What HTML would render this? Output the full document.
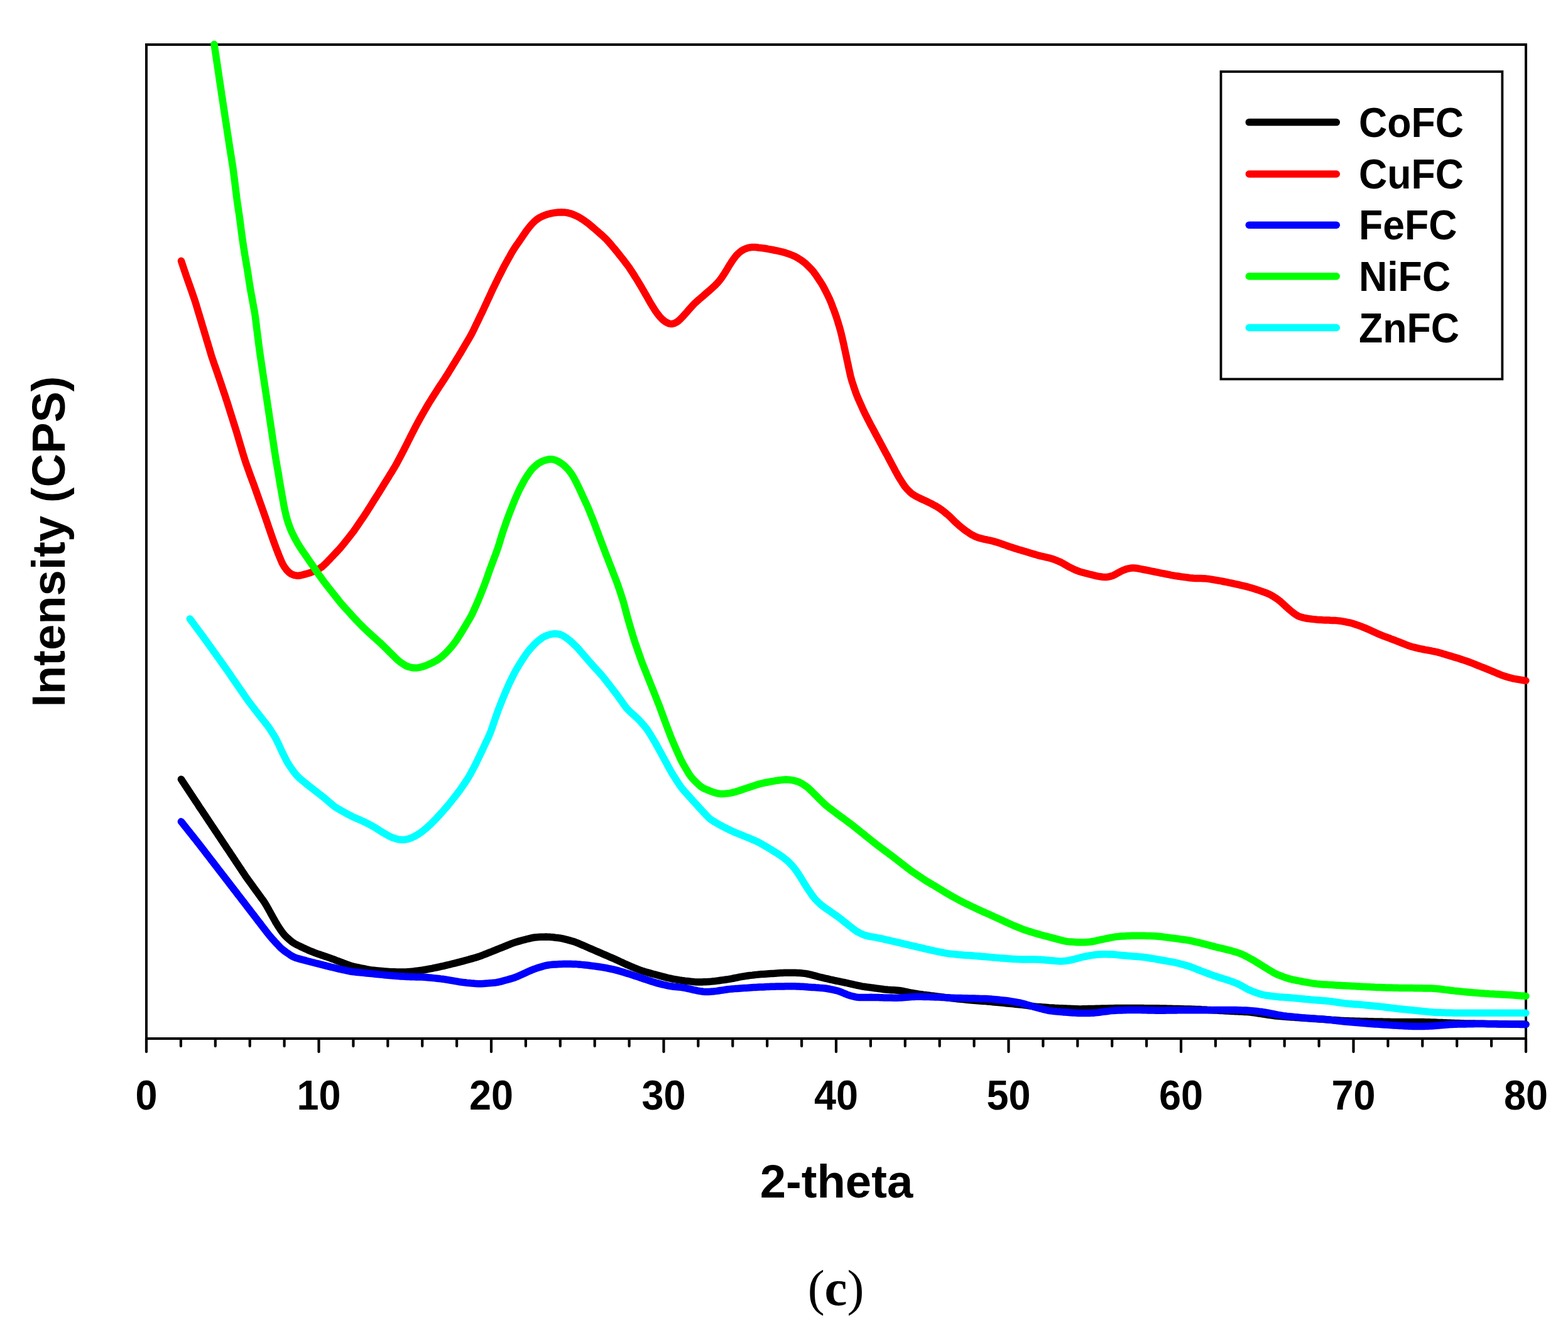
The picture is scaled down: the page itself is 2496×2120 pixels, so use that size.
<!DOCTYPE html>
<html><head><meta charset="utf-8"><title>XRD</title>
<style>
html,body{margin:0;padding:0;background:#fff;}
body{width:2496px;height:2120px;overflow:hidden;}
svg{display:block;}
.tl{font-family:"Liberation Sans",Arial,sans-serif;font-weight:bold;font-size:67px;text-anchor:middle;fill:#000;}
.lg{font-family:"Liberation Sans",Arial,sans-serif;font-weight:bold;font-size:67px;fill:#000;}
.al{font-family:"Liberation Sans",Arial,sans-serif;font-weight:bold;font-size:75px;text-anchor:middle;fill:#000;}
.cap{font-family:"Liberation Serif","Times New Roman",serif;font-weight:normal;font-size:81px;text-anchor:middle;fill:#000;}
</style></head>
<body>
<svg xmlns="http://www.w3.org/2000/svg" width="2496" height="2120" viewBox="0 0 2496 2120">
<rect width="2496" height="2120" fill="#fff"/>
<rect x="233" y="71" width="2196" height="1582" fill="none" stroke="#000" stroke-width="4"/>
<line x1="233.0" y1="1653" x2="233.0" y2="1674" stroke="#000" stroke-width="4.2" stroke-linecap="round"/>
<line x1="287.9" y1="1653" x2="287.9" y2="1665" stroke="#000" stroke-width="4.2" stroke-linecap="round"/>
<line x1="342.8" y1="1653" x2="342.8" y2="1665" stroke="#000" stroke-width="4.2" stroke-linecap="round"/>
<line x1="397.7" y1="1653" x2="397.7" y2="1665" stroke="#000" stroke-width="4.2" stroke-linecap="round"/>
<line x1="452.6" y1="1653" x2="452.6" y2="1665" stroke="#000" stroke-width="4.2" stroke-linecap="round"/>
<line x1="507.5" y1="1653" x2="507.5" y2="1674" stroke="#000" stroke-width="4.2" stroke-linecap="round"/>
<line x1="562.4" y1="1653" x2="562.4" y2="1665" stroke="#000" stroke-width="4.2" stroke-linecap="round"/>
<line x1="617.3" y1="1653" x2="617.3" y2="1665" stroke="#000" stroke-width="4.2" stroke-linecap="round"/>
<line x1="672.2" y1="1653" x2="672.2" y2="1665" stroke="#000" stroke-width="4.2" stroke-linecap="round"/>
<line x1="727.1" y1="1653" x2="727.1" y2="1665" stroke="#000" stroke-width="4.2" stroke-linecap="round"/>
<line x1="782.0" y1="1653" x2="782.0" y2="1674" stroke="#000" stroke-width="4.2" stroke-linecap="round"/>
<line x1="836.9" y1="1653" x2="836.9" y2="1665" stroke="#000" stroke-width="4.2" stroke-linecap="round"/>
<line x1="891.8" y1="1653" x2="891.8" y2="1665" stroke="#000" stroke-width="4.2" stroke-linecap="round"/>
<line x1="946.7" y1="1653" x2="946.7" y2="1665" stroke="#000" stroke-width="4.2" stroke-linecap="round"/>
<line x1="1001.6" y1="1653" x2="1001.6" y2="1665" stroke="#000" stroke-width="4.2" stroke-linecap="round"/>
<line x1="1056.5" y1="1653" x2="1056.5" y2="1674" stroke="#000" stroke-width="4.2" stroke-linecap="round"/>
<line x1="1111.4" y1="1653" x2="1111.4" y2="1665" stroke="#000" stroke-width="4.2" stroke-linecap="round"/>
<line x1="1166.3" y1="1653" x2="1166.3" y2="1665" stroke="#000" stroke-width="4.2" stroke-linecap="round"/>
<line x1="1221.2" y1="1653" x2="1221.2" y2="1665" stroke="#000" stroke-width="4.2" stroke-linecap="round"/>
<line x1="1276.1" y1="1653" x2="1276.1" y2="1665" stroke="#000" stroke-width="4.2" stroke-linecap="round"/>
<line x1="1331.0" y1="1653" x2="1331.0" y2="1674" stroke="#000" stroke-width="4.2" stroke-linecap="round"/>
<line x1="1385.9" y1="1653" x2="1385.9" y2="1665" stroke="#000" stroke-width="4.2" stroke-linecap="round"/>
<line x1="1440.8" y1="1653" x2="1440.8" y2="1665" stroke="#000" stroke-width="4.2" stroke-linecap="round"/>
<line x1="1495.7" y1="1653" x2="1495.7" y2="1665" stroke="#000" stroke-width="4.2" stroke-linecap="round"/>
<line x1="1550.6" y1="1653" x2="1550.6" y2="1665" stroke="#000" stroke-width="4.2" stroke-linecap="round"/>
<line x1="1605.5" y1="1653" x2="1605.5" y2="1674" stroke="#000" stroke-width="4.2" stroke-linecap="round"/>
<line x1="1660.4" y1="1653" x2="1660.4" y2="1665" stroke="#000" stroke-width="4.2" stroke-linecap="round"/>
<line x1="1715.3" y1="1653" x2="1715.3" y2="1665" stroke="#000" stroke-width="4.2" stroke-linecap="round"/>
<line x1="1770.2" y1="1653" x2="1770.2" y2="1665" stroke="#000" stroke-width="4.2" stroke-linecap="round"/>
<line x1="1825.1" y1="1653" x2="1825.1" y2="1665" stroke="#000" stroke-width="4.2" stroke-linecap="round"/>
<line x1="1880.0" y1="1653" x2="1880.0" y2="1674" stroke="#000" stroke-width="4.2" stroke-linecap="round"/>
<line x1="1934.9" y1="1653" x2="1934.9" y2="1665" stroke="#000" stroke-width="4.2" stroke-linecap="round"/>
<line x1="1989.8" y1="1653" x2="1989.8" y2="1665" stroke="#000" stroke-width="4.2" stroke-linecap="round"/>
<line x1="2044.7" y1="1653" x2="2044.7" y2="1665" stroke="#000" stroke-width="4.2" stroke-linecap="round"/>
<line x1="2099.6" y1="1653" x2="2099.6" y2="1665" stroke="#000" stroke-width="4.2" stroke-linecap="round"/>
<line x1="2154.5" y1="1653" x2="2154.5" y2="1674" stroke="#000" stroke-width="4.2" stroke-linecap="round"/>
<line x1="2209.4" y1="1653" x2="2209.4" y2="1665" stroke="#000" stroke-width="4.2" stroke-linecap="round"/>
<line x1="2264.3" y1="1653" x2="2264.3" y2="1665" stroke="#000" stroke-width="4.2" stroke-linecap="round"/>
<line x1="2319.2" y1="1653" x2="2319.2" y2="1665" stroke="#000" stroke-width="4.2" stroke-linecap="round"/>
<line x1="2374.1" y1="1653" x2="2374.1" y2="1665" stroke="#000" stroke-width="4.2" stroke-linecap="round"/>
<line x1="2429.0" y1="1653" x2="2429.0" y2="1674" stroke="#000" stroke-width="4.2" stroke-linecap="round"/>
<text x="233.0" y="1766" class="tl" transform="translate(233.0 0) scale(0.94 1) translate(-233.0 0)">0</text>
<text x="507.5" y="1766" class="tl" transform="translate(507.5 0) scale(0.94 1) translate(-507.5 0)">10</text>
<text x="782.0" y="1766" class="tl" transform="translate(782.0 0) scale(0.94 1) translate(-782.0 0)">20</text>
<text x="1056.5" y="1766" class="tl" transform="translate(1056.5 0) scale(0.94 1) translate(-1056.5 0)">30</text>
<text x="1331.0" y="1766" class="tl" transform="translate(1331.0 0) scale(0.94 1) translate(-1331.0 0)">40</text>
<text x="1605.5" y="1766" class="tl" transform="translate(1605.5 0) scale(0.94 1) translate(-1605.5 0)">50</text>
<text x="1880.0" y="1766" class="tl" transform="translate(1880.0 0) scale(0.94 1) translate(-1880.0 0)">60</text>
<text x="2154.5" y="1766" class="tl" transform="translate(2154.5 0) scale(0.94 1) translate(-2154.5 0)">70</text>
<text x="2429.0" y="1766" class="tl" transform="translate(2429.0 0) scale(0.94 1) translate(-2429.0 0)">80</text>
<path d="M288.4 1240.3 L290.1 1242.8 L291.7 1245.3 L293.4 1247.8 L295.0 1250.3 L296.7 1252.8 L298.3 1255.3 L300.0 1257.8 L301.6 1260.3 L303.3 1262.8 L304.9 1265.3 L306.6 1267.8 L308.2 1270.3 L309.9 1272.8 L311.5 1275.3 L313.2 1277.8 L314.9 1280.3 L316.5 1282.9 L318.2 1285.4 L319.8 1287.8 L321.5 1290.3 L323.2 1292.8 L324.8 1295.3 L326.5 1297.8 L328.2 1300.3 L329.8 1302.8 L331.5 1305.3 L333.1 1307.8 L334.8 1310.3 L336.5 1312.8 L338.1 1315.3 L339.8 1317.8 L341.5 1320.3 L343.1 1322.8 L344.8 1325.3 L346.5 1327.8 L348.1 1330.3 L349.8 1332.8 L351.5 1335.3 L353.1 1337.8 L354.8 1340.3 L356.4 1342.8 L358.1 1345.3 L359.8 1347.8 L361.4 1350.3 L363.1 1352.7 L364.8 1355.2 L366.4 1357.7 L368.1 1360.2 L369.8 1362.7 L371.4 1365.2 L373.1 1367.7 L374.7 1370.2 L376.4 1372.7 L378.1 1375.2 L379.7 1377.7 L381.4 1380.2 L383.1 1382.7 L384.7 1385.2 L386.4 1387.7 L388.1 1390.2 L389.7 1392.7 L391.4 1395.2 L393.1 1397.6 L394.9 1400.1 L396.6 1402.5 L398.4 1404.9 L400.2 1407.4 L401.9 1409.8 L403.7 1412.2 L405.4 1414.6 L407.2 1417.1 L409.0 1419.5 L410.7 1421.9 L412.5 1424.4 L414.2 1426.8 L416.0 1429.2 L417.8 1431.6 L419.5 1434.1 L421.2 1436.6 L422.8 1439.1 L424.3 1441.7 L425.8 1444.3 L427.3 1446.9 L428.7 1449.5 L430.2 1452.1 L431.6 1454.8 L433.1 1457.4 L434.5 1460.0 L436.0 1462.6 L437.5 1465.3 L438.9 1467.9 L440.5 1470.4 L442.0 1473.0 L443.7 1475.5 L445.3 1478.0 L447.0 1480.5 L448.7 1482.9 L450.5 1485.3 L452.4 1487.6 L454.4 1489.8 L456.5 1491.9 L458.8 1493.9 L461.0 1495.9 L463.3 1497.8 L465.7 1499.6 L468.1 1501.3 L470.7 1502.7 L473.4 1504.1 L476.1 1505.4 L478.8 1506.7 L481.5 1508.0 L484.2 1509.2 L486.9 1510.5 L489.7 1511.7 L492.4 1513.0 L495.2 1514.1 L498.0 1515.2 L500.8 1516.3 L503.6 1517.3 L506.4 1518.3 L509.3 1519.3 L512.1 1520.3 L514.9 1521.2 L517.8 1522.2 L520.6 1523.2 L523.4 1524.2 L526.2 1525.2 L529.1 1526.2 L531.9 1527.2 L534.7 1528.3 L537.5 1529.3 L540.3 1530.4 L543.1 1531.5 L545.9 1532.5 L548.7 1533.6 L551.5 1534.7 L554.3 1535.7 L557.2 1536.7 L560.0 1537.6 L562.9 1538.3 L565.8 1539.0 L568.8 1539.6 L571.7 1540.2 L574.6 1540.8 L577.6 1541.4 L580.5 1542.0 L583.5 1542.6 L586.4 1543.1 L589.4 1543.6 L592.4 1544.0 L595.3 1544.3 L598.3 1544.6 L601.3 1544.9 L604.3 1545.2 L607.3 1545.5 L610.3 1545.8 L613.2 1546.1 L616.2 1546.3 L619.2 1546.5 L622.2 1546.7 L625.2 1546.8 L628.2 1546.8 L631.2 1546.9 L634.2 1547.0 L637.2 1547.1 L640.2 1547.1 L643.2 1547.1 L646.2 1547.0 L649.2 1546.8 L652.2 1546.6 L655.1 1546.2 L658.1 1545.9 L661.1 1545.5 L664.1 1545.1 L667.0 1544.8 L670.0 1544.4 L673.0 1544.0 L676.0 1543.5 L678.9 1543.0 L681.9 1542.4 L684.8 1541.8 L687.7 1541.3 L690.7 1540.7 L693.6 1540.1 L696.6 1539.5 L699.5 1538.9 L702.4 1538.2 L705.4 1537.6 L708.3 1536.9 L711.2 1536.2 L714.1 1535.5 L717.0 1534.8 L719.9 1534.0 L722.8 1533.3 L725.8 1532.6 L728.7 1531.8 L731.6 1531.1 L734.5 1530.3 L737.4 1529.6 L740.3 1528.8 L743.2 1528.0 L746.0 1527.2 L748.9 1526.4 L751.8 1525.6 L754.7 1524.8 L757.6 1523.9 L760.5 1523.0 L763.3 1522.1 L766.1 1521.1 L768.9 1520.0 L771.7 1518.9 L774.5 1517.8 L777.3 1516.7 L780.1 1515.6 L782.9 1514.5 L785.6 1513.4 L788.4 1512.3 L791.2 1511.1 L794.0 1510.0 L796.8 1508.9 L799.6 1507.8 L802.4 1506.7 L805.1 1505.6 L807.9 1504.4 L810.7 1503.3 L813.5 1502.2 L816.3 1501.2 L819.1 1500.2 L822.0 1499.2 L824.8 1498.4 L827.7 1497.6 L830.6 1496.8 L833.5 1496.0 L836.4 1495.3 L839.3 1494.5 L842.2 1493.8 L845.1 1493.1 L848.1 1492.5 L851.0 1492.0 L854.0 1491.7 L857.0 1491.5 L860.0 1491.3 L863.0 1491.2 L866.0 1491.2 L869.0 1491.1 L871.9 1491.2 L874.9 1491.3 L877.9 1491.6 L880.9 1491.8 L883.9 1492.2 L886.9 1492.5 L889.8 1492.9 L892.8 1493.3 L895.7 1493.9 L898.6 1494.6 L901.5 1495.3 L904.4 1496.1 L907.3 1496.9 L910.2 1497.7 L913.1 1498.6 L915.9 1499.5 L918.7 1500.6 L921.5 1501.7 L924.2 1502.9 L927.0 1504.1 L929.8 1505.3 L932.5 1506.5 L935.3 1507.7 L938.0 1508.9 L940.8 1510.1 L943.5 1511.3 L946.3 1512.5 L949.0 1513.7 L951.8 1514.9 L954.5 1516.1 L957.3 1517.2 L960.0 1518.4 L962.8 1519.6 L965.5 1520.8 L968.3 1522.0 L971.0 1523.2 L973.8 1524.4 L976.5 1525.6 L979.3 1526.8 L982.0 1528.1 L984.7 1529.3 L987.5 1530.6 L990.2 1531.8 L992.9 1533.1 L995.6 1534.4 L998.4 1535.6 L1001.1 1536.8 L1003.9 1538.0 L1006.6 1539.1 L1009.4 1540.3 L1012.2 1541.4 L1015.0 1542.5 L1017.8 1543.6 L1020.6 1544.6 L1023.4 1545.6 L1026.3 1546.5 L1029.1 1547.3 L1032.0 1548.1 L1034.9 1548.9 L1037.8 1549.7 L1040.7 1550.5 L1043.6 1551.2 L1046.5 1552.0 L1049.4 1552.8 L1052.3 1553.6 L1055.2 1554.3 L1058.1 1555.1 L1061.0 1555.9 L1063.9 1556.6 L1066.9 1557.2 L1069.8 1557.8 L1072.7 1558.4 L1075.7 1558.9 L1078.7 1559.4 L1081.6 1559.9 L1084.6 1560.3 L1087.5 1560.8 L1090.5 1561.2 L1093.5 1561.5 L1096.5 1561.8 L1099.5 1562.1 L1102.4 1562.4 L1105.4 1562.7 L1108.4 1562.9 L1111.4 1563.0 L1114.4 1563.0 L1117.4 1562.9 L1120.4 1562.8 L1123.4 1562.7 L1126.4 1562.6 L1129.4 1562.4 L1132.4 1562.1 L1135.4 1561.8 L1138.3 1561.5 L1141.3 1561.1 L1144.3 1560.7 L1147.2 1560.3 L1150.2 1559.9 L1153.2 1559.5 L1156.2 1559.0 L1159.1 1558.6 L1162.1 1558.1 L1165.0 1557.6 L1168.0 1557.0 L1170.9 1556.4 L1173.9 1555.8 L1176.8 1555.2 L1179.8 1554.7 L1182.7 1554.1 L1185.7 1553.7 L1188.6 1553.2 L1191.6 1552.8 L1194.6 1552.4 L1197.6 1552.1 L1200.5 1551.7 L1203.5 1551.4 L1206.5 1551.1 L1209.5 1550.8 L1212.5 1550.6 L1215.5 1550.4 L1218.5 1550.2 L1221.5 1550.0 L1224.4 1549.8 L1227.4 1549.6 L1230.4 1549.4 L1233.4 1549.2 L1236.4 1549.0 L1239.4 1548.8 L1242.4 1548.6 L1245.4 1548.4 L1248.4 1548.3 L1251.4 1548.3 L1254.4 1548.2 L1257.4 1548.2 L1260.4 1548.2 L1263.4 1548.2 L1266.4 1548.3 L1269.4 1548.4 L1272.4 1548.5 L1275.4 1548.8 L1278.3 1549.1 L1281.3 1549.4 L1284.3 1549.9 L1287.2 1550.5 L1290.1 1551.2 L1293.0 1551.9 L1295.9 1552.7 L1298.8 1553.4 L1301.7 1554.2 L1304.6 1555.0 L1307.5 1555.7 L1310.5 1556.4 L1313.4 1557.1 L1316.3 1557.7 L1319.2 1558.4 L1322.1 1559.1 L1325.1 1559.7 L1328.0 1560.4 L1330.9 1561.0 L1333.9 1561.6 L1336.8 1562.2 L1339.8 1562.8 L1342.7 1563.4 L1345.6 1564.0 L1348.6 1564.7 L1351.5 1565.3 L1354.4 1566.0 L1357.3 1566.6 L1360.3 1567.3 L1363.2 1568.0 L1366.1 1568.6 L1369.1 1569.2 L1372.0 1569.8 L1375.0 1570.3 L1377.9 1570.7 L1380.9 1571.1 L1383.9 1571.5 L1386.8 1571.9 L1389.8 1572.3 L1392.8 1572.7 L1395.8 1573.1 L1398.7 1573.5 L1401.7 1573.9 L1404.7 1574.3 L1407.7 1574.7 L1410.6 1575.0 L1413.6 1575.3 L1416.6 1575.5 L1419.6 1575.7 L1422.6 1575.8 L1425.6 1576.0 L1428.6 1576.2 L1431.5 1576.5 L1434.5 1577.0 L1437.4 1577.5 L1440.4 1578.1 L1443.3 1578.7 L1446.3 1579.3 L1449.2 1579.9 L1452.2 1580.4 L1455.1 1581.0 L1458.1 1581.5 L1461.0 1582.0 L1464.0 1582.4 L1467.0 1582.8 L1469.9 1583.2 L1472.9 1583.5 L1475.9 1583.9 L1478.9 1584.3 L1481.8 1584.7 L1484.8 1585.0 L1487.8 1585.4 L1490.8 1585.8 L1493.7 1586.1 L1496.7 1586.5 L1499.7 1586.9 L1502.7 1587.3 L1505.7 1587.6 L1508.6 1588.0 L1511.6 1588.4 L1514.6 1588.7 L1517.6 1589.0 L1520.6 1589.4 L1523.5 1589.7 L1526.5 1590.0 L1529.5 1590.3 L1532.5 1590.6 L1535.5 1590.9 L1538.5 1591.2 L1541.4 1591.5 L1544.4 1591.7 L1547.4 1592.0 L1550.4 1592.3 L1553.4 1592.5 L1556.4 1592.7 L1559.4 1593.0 L1562.4 1593.2 L1565.4 1593.4 L1568.4 1593.6 L1571.3 1593.9 L1574.3 1594.1 L1577.3 1594.4 L1580.3 1594.7 L1583.3 1595.0 L1586.3 1595.3 L1589.3 1595.5 L1592.3 1595.8 L1595.2 1596.1 L1598.2 1596.4 L1601.2 1596.7 L1604.2 1597.0 L1607.2 1597.3 L1610.2 1597.6 L1613.2 1597.9 L1616.1 1598.2 L1619.1 1598.5 L1622.1 1598.8 L1625.1 1599.1 L1628.1 1599.4 L1631.1 1599.8 L1634.0 1600.1 L1637.0 1600.5 L1640.0 1601.0 L1642.9 1601.4 L1645.9 1601.8 L1648.9 1602.1 L1651.9 1602.4 L1654.9 1602.6 L1657.9 1602.8 L1660.9 1603.1 L1663.8 1603.3 L1666.8 1603.5 L1669.8 1603.8 L1672.8 1604.0 L1675.8 1604.1 L1678.8 1604.3 L1681.8 1604.4 L1684.8 1604.6 L1687.8 1604.7 L1690.8 1604.8 L1693.8 1605.0 L1696.8 1605.1 L1699.8 1605.2 L1702.8 1605.3 L1705.8 1605.5 L1708.8 1605.6 L1711.8 1605.7 L1714.8 1605.8 L1717.8 1605.9 L1720.8 1605.9 L1723.8 1605.8 L1726.8 1605.8 L1729.8 1605.7 L1732.8 1605.6 L1735.8 1605.6 L1738.8 1605.5 L1741.8 1605.4 L1744.8 1605.3 L1747.8 1605.3 L1750.8 1605.2 L1753.8 1605.1 L1756.8 1605.0 L1759.8 1605.0 L1762.8 1604.9 L1765.8 1604.8 L1768.8 1604.7 L1771.8 1604.7 L1774.8 1604.6 L1777.8 1604.5 L1780.8 1604.5 L1783.8 1604.5 L1786.8 1604.4 L1789.8 1604.5 L1792.8 1604.5 L1795.8 1604.5 L1798.8 1604.5 L1801.8 1604.5 L1804.8 1604.5 L1807.8 1604.6 L1810.8 1604.6 L1813.8 1604.6 L1816.8 1604.6 L1819.8 1604.6 L1822.8 1604.7 L1825.8 1604.7 L1828.8 1604.7 L1831.8 1604.7 L1834.8 1604.7 L1837.8 1604.8 L1840.8 1604.8 L1843.8 1604.8 L1846.8 1604.9 L1849.7 1604.9 L1852.7 1605.0 L1855.7 1605.1 L1858.7 1605.2 L1861.7 1605.3 L1864.7 1605.3 L1867.7 1605.4 L1870.7 1605.5 L1873.7 1605.6 L1876.7 1605.6 L1879.7 1605.7 L1882.7 1605.8 L1885.7 1605.9 L1888.7 1605.9 L1891.7 1606.0 L1894.7 1606.1 L1897.7 1606.2 L1900.7 1606.3 L1903.7 1606.4 L1906.7 1606.5 L1909.7 1606.6 L1912.7 1606.8 L1915.7 1606.9 L1918.7 1607.1 L1921.7 1607.3 L1924.7 1607.4 L1927.7 1607.6 L1930.7 1607.8 L1933.7 1607.9 L1936.7 1608.1 L1939.7 1608.3 L1942.7 1608.4 L1945.7 1608.6 L1948.7 1608.7 L1951.7 1608.9 L1954.7 1609.1 L1957.7 1609.2 L1960.7 1609.4 L1963.6 1609.5 L1966.6 1609.7 L1969.6 1609.8 L1972.6 1610.0 L1975.6 1610.1 L1978.6 1610.3 L1981.6 1610.4 L1984.6 1610.6 L1987.6 1610.8 L1990.6 1611.1 L1993.6 1611.5 L1996.5 1611.9 L1999.5 1612.3 L2002.5 1612.8 L2005.4 1613.2 L2008.4 1613.7 L2011.4 1614.1 L2014.3 1614.6 L2017.3 1615.0 L2020.3 1615.5 L2023.2 1615.9 L2026.2 1616.3 L2029.2 1616.7 L2032.2 1617.0 L2035.1 1617.3 L2038.1 1617.6 L2041.1 1617.8 L2044.1 1618.0 L2047.1 1618.2 L2050.1 1618.5 L2053.1 1618.7 L2056.1 1618.9 L2059.1 1619.1 L2062.1 1619.4 L2065.1 1619.6 L2068.0 1619.8 L2071.0 1620.0 L2074.0 1620.2 L2077.0 1620.4 L2080.0 1620.6 L2083.0 1620.8 L2086.0 1621.0 L2089.0 1621.2 L2092.0 1621.4 L2095.0 1621.6 L2098.0 1621.7 L2101.0 1621.9 L2104.0 1622.1 L2107.0 1622.3 L2110.0 1622.5 L2113.0 1622.7 L2115.9 1622.9 L2118.9 1623.2 L2121.9 1623.4 L2124.9 1623.6 L2127.9 1623.8 L2130.9 1624.0 L2133.9 1624.2 L2136.9 1624.4 L2139.9 1624.6 L2142.9 1624.7 L2145.9 1624.8 L2148.9 1624.9 L2151.9 1625.0 L2154.9 1625.1 L2157.9 1625.2 L2160.9 1625.2 L2163.9 1625.3 L2166.9 1625.4 L2169.9 1625.5 L2172.9 1625.5 L2175.9 1625.6 L2178.9 1625.7 L2181.9 1625.8 L2184.9 1625.8 L2187.9 1625.9 L2190.9 1625.9 L2193.9 1626.0 L2196.9 1626.0 L2199.9 1626.1 L2202.9 1626.2 L2205.9 1626.2 L2208.9 1626.3 L2211.9 1626.3 L2214.9 1626.4 L2217.9 1626.4 L2220.9 1626.5 L2223.9 1626.5 L2226.9 1626.6 L2229.9 1626.6 L2232.9 1626.6 L2235.9 1626.6 L2238.9 1626.6 L2241.9 1626.6 L2244.9 1626.6 L2247.9 1626.6 L2250.9 1626.6 L2253.9 1626.6 L2256.9 1626.6 L2259.9 1626.6 L2262.9 1626.6 L2265.9 1626.6 L2268.9 1626.7 L2271.9 1626.7 L2274.9 1626.8 L2277.9 1626.9 L2280.9 1627.0 L2283.8 1627.1 L2286.8 1627.2 L2289.8 1627.4 L2292.8 1627.5 L2295.8 1627.6 L2298.8 1627.7 L2301.8 1627.8 L2304.8 1627.9 L2307.8 1628.0 L2310.8 1628.2 L2313.8 1628.3 L2316.8 1628.4 L2319.8 1628.5 L2322.8 1628.6 L2325.8 1628.7 L2328.8 1628.8 L2331.8 1628.9 L2334.8 1628.9 L2337.8 1629.0 L2340.8 1629.0 L2343.8 1629.1 L2346.8 1629.1 L2349.8 1629.2 L2352.8 1629.2 L2355.8 1629.3 L2358.8 1629.3 L2361.8 1629.3 L2364.8 1629.4 L2367.8 1629.4 L2370.8 1629.5 L2373.8 1629.5 L2376.8 1629.6 L2379.8 1629.6 L2382.8 1629.6 L2385.8 1629.7 L2388.8 1629.7 L2391.8 1629.8 L2394.8 1629.8 L2397.8 1629.8 L2400.8 1629.9 L2403.8 1629.9 L2406.8 1629.9 L2409.8 1630.0 L2412.8 1630.0 L2415.8 1630.0 L2418.8 1630.1 L2421.7 1630.1 L2424.6 1630.1 L2427.3 1630.2 L2428.9 1630.2" fill="none" stroke="#000000" stroke-width="11.5" stroke-linecap="round" stroke-linejoin="round"/>
<path d="M288.5 415.3 L289.4 418.1 L290.4 421.0 L291.3 423.8 L292.3 426.7 L293.2 429.5 L294.2 432.4 L295.2 435.2 L296.1 438.1 L297.1 440.9 L298.1 443.7 L299.1 446.5 L300.1 449.4 L301.1 452.2 L302.1 455.0 L303.1 457.9 L304.1 460.7 L305.1 463.5 L306.1 466.4 L307.0 469.2 L308.0 472.0 L309.0 474.9 L310.0 477.7 L310.9 480.6 L311.8 483.4 L312.7 486.3 L313.5 489.2 L314.4 492.0 L315.2 494.9 L316.1 497.8 L317.0 500.7 L317.8 503.5 L318.7 506.4 L319.6 509.3 L320.4 512.2 L321.3 515.0 L322.1 517.9 L323.0 520.8 L323.9 523.7 L324.7 526.5 L325.6 529.4 L326.4 532.3 L327.3 535.1 L328.2 538.0 L329.0 540.9 L329.9 543.8 L330.8 546.6 L331.6 549.5 L332.5 552.4 L333.4 555.3 L334.2 558.1 L335.1 561.0 L335.9 563.9 L336.8 566.7 L337.7 569.6 L338.7 572.4 L339.6 575.3 L340.6 578.1 L341.6 581.0 L342.6 583.8 L343.6 586.6 L344.6 589.4 L345.6 592.3 L346.6 595.1 L347.5 598.0 L348.5 600.8 L349.4 603.6 L350.4 606.5 L351.4 609.3 L352.3 612.2 L353.3 615.0 L354.2 617.9 L355.2 620.7 L356.1 623.5 L357.1 626.4 L358.1 629.2 L359.0 632.1 L359.9 634.9 L360.9 637.8 L361.8 640.6 L362.7 643.5 L363.6 646.3 L364.5 649.2 L365.4 652.1 L366.3 654.9 L367.2 657.8 L368.1 660.7 L369.0 663.5 L369.9 666.4 L370.8 669.2 L371.7 672.1 L372.6 675.0 L373.5 677.8 L374.4 680.7 L375.3 683.5 L376.2 686.4 L377.1 689.3 L377.9 692.2 L378.8 695.0 L379.6 697.9 L380.5 700.8 L381.3 703.7 L382.2 706.6 L383.0 709.4 L383.9 712.3 L384.7 715.2 L385.6 718.1 L386.4 720.9 L387.3 723.8 L388.2 726.7 L389.1 729.5 L390.0 732.4 L390.9 735.2 L391.9 738.1 L392.9 740.9 L393.9 743.7 L394.9 746.6 L395.9 749.4 L396.9 752.2 L397.9 755.0 L398.9 757.9 L400.0 760.7 L401.0 763.5 L402.1 766.3 L403.1 769.1 L404.2 771.9 L405.2 774.7 L406.2 777.6 L407.2 780.4 L408.2 783.2 L409.2 786.0 L410.2 788.9 L411.2 791.7 L412.2 794.5 L413.2 797.4 L414.2 800.2 L415.2 803.0 L416.2 805.8 L417.2 808.7 L418.2 811.5 L419.2 814.3 L420.2 817.2 L421.2 820.0 L422.2 822.8 L423.2 825.7 L424.1 828.5 L425.1 831.3 L426.1 834.2 L427.0 837.0 L428.0 839.9 L429.0 842.7 L430.0 845.5 L430.9 848.4 L431.9 851.2 L432.9 854.0 L433.9 856.9 L434.9 859.7 L435.9 862.5 L436.9 865.3 L438.0 868.1 L439.0 871.0 L440.1 873.8 L441.2 876.6 L442.2 879.4 L443.3 882.2 L444.4 884.9 L445.6 887.7 L446.7 890.5 L447.9 893.3 L449.1 896.0 L450.5 898.6 L452.0 901.2 L453.7 903.7 L455.4 906.0 L457.3 908.3 L459.4 910.4 L461.6 912.2 L464.1 913.7 L466.7 914.9 L469.5 915.7 L472.3 916.2 L475.2 916.2 L478.1 915.8 L480.9 915.2 L483.8 914.4 L486.7 913.6 L489.6 912.8 L492.5 911.9 L495.3 911.0 L498.1 909.9 L500.9 908.8 L503.6 907.6 L506.3 906.2 L508.8 904.8 L511.3 903.1 L513.6 901.3 L515.8 899.3 L518.0 897.2 L520.1 895.1 L522.2 892.9 L524.3 890.8 L526.3 888.6 L528.4 886.4 L530.5 884.2 L532.5 882.0 L534.6 879.9 L536.6 877.7 L538.7 875.5 L540.7 873.3 L542.7 871.0 L544.6 868.7 L546.5 866.4 L548.4 864.1 L550.2 861.7 L552.1 859.4 L554.0 857.0 L555.8 854.7 L557.7 852.3 L559.5 849.9 L561.4 847.6 L563.2 845.2 L564.9 842.7 L566.6 840.3 L568.3 837.8 L570.0 835.3 L571.7 832.8 L573.4 830.3 L575.0 827.9 L576.7 825.4 L578.4 822.9 L580.1 820.4 L581.7 817.9 L583.4 815.4 L585.0 812.9 L586.6 810.3 L588.2 807.8 L589.8 805.3 L591.4 802.7 L593.0 800.2 L594.6 797.7 L596.2 795.1 L597.8 792.6 L599.4 790.0 L601.0 787.5 L602.6 784.9 L604.2 782.4 L605.7 779.8 L607.3 777.3 L608.9 774.7 L610.5 772.2 L612.0 769.6 L613.6 767.1 L615.2 764.5 L616.8 762.0 L618.4 759.4 L619.9 756.9 L621.5 754.3 L623.1 751.8 L624.7 749.2 L626.2 746.6 L627.8 744.1 L629.3 741.5 L630.8 738.9 L632.2 736.3 L633.6 733.6 L635.0 731.0 L636.4 728.3 L637.8 725.7 L639.2 723.0 L640.6 720.3 L642.0 717.7 L643.4 715.0 L644.7 712.3 L646.1 709.7 L647.4 707.0 L648.8 704.3 L650.1 701.6 L651.5 698.9 L652.8 696.2 L654.1 693.6 L655.5 690.9 L656.9 688.2 L658.3 685.6 L659.6 682.9 L661.0 680.2 L662.4 677.6 L663.8 674.9 L665.2 672.3 L666.7 669.6 L668.1 667.0 L669.5 664.4 L671.0 661.8 L672.5 659.2 L674.0 656.6 L675.5 654.0 L677.0 651.4 L678.5 648.8 L680.0 646.2 L681.6 643.6 L683.1 641.0 L684.7 638.5 L686.3 635.9 L687.9 633.4 L689.5 630.9 L691.1 628.3 L692.7 625.8 L694.3 623.3 L695.9 620.7 L697.6 618.2 L699.2 615.7 L700.8 613.2 L702.5 610.7 L704.2 608.2 L705.8 605.7 L707.5 603.2 L709.1 600.7 L710.7 598.1 L712.3 595.6 L713.9 593.1 L715.4 590.5 L717.0 587.9 L718.6 585.4 L720.2 582.8 L721.7 580.3 L723.3 577.7 L724.9 575.2 L726.4 572.6 L728.0 570.0 L729.6 567.5 L731.1 564.9 L732.7 562.4 L734.2 559.8 L735.7 557.2 L737.3 554.6 L738.8 552.0 L740.3 549.4 L741.8 546.9 L743.3 544.3 L744.9 541.7 L746.4 539.1 L747.9 536.5 L749.4 533.9 L750.8 531.3 L752.2 528.6 L753.5 525.9 L754.8 523.2 L756.1 520.5 L757.4 517.8 L758.7 515.1 L760.0 512.4 L761.3 509.7 L762.6 507.0 L763.9 504.3 L765.2 501.6 L766.5 498.9 L767.8 496.2 L769.1 493.5 L770.4 490.7 L771.6 488.0 L772.9 485.3 L774.1 482.6 L775.4 479.8 L776.6 477.1 L777.9 474.4 L779.2 471.7 L780.4 468.9 L781.7 466.2 L782.9 463.5 L784.2 460.8 L785.5 458.1 L786.8 455.4 L788.1 452.7 L789.4 450.0 L790.8 447.3 L792.1 444.6 L793.4 441.9 L794.8 439.2 L796.1 436.6 L797.5 433.9 L798.8 431.2 L800.2 428.5 L801.5 425.9 L802.9 423.2 L804.4 420.6 L805.8 417.9 L807.3 415.3 L808.7 412.7 L810.2 410.1 L811.7 407.5 L813.1 404.8 L814.6 402.2 L816.1 399.7 L817.7 397.1 L819.3 394.6 L821.0 392.1 L822.7 389.6 L824.4 387.2 L826.1 384.7 L827.8 382.2 L829.5 379.8 L831.2 377.3 L832.9 374.8 L834.6 372.3 L836.3 369.8 L838.0 367.4 L839.8 365.0 L841.6 362.6 L843.5 360.3 L845.4 358.0 L847.4 355.8 L849.5 353.7 L851.7 351.6 L854.0 349.7 L856.4 348.0 L859.0 346.4 L861.6 345.0 L864.3 343.8 L867.1 342.7 L869.9 341.6 L872.7 340.8 L875.6 340.0 L878.5 339.4 L881.5 338.9 L884.4 338.5 L887.4 338.1 L890.4 337.9 L893.4 337.8 L896.3 337.9 L899.3 338.1 L902.3 338.5 L905.2 339.1 L908.0 339.8 L910.9 340.8 L913.6 341.9 L916.4 343.1 L919.1 344.4 L921.7 345.8 L924.3 347.3 L926.8 348.9 L929.3 350.5 L931.8 352.3 L934.2 354.0 L936.6 355.8 L938.9 357.7 L941.2 359.6 L943.5 361.6 L945.7 363.5 L948.0 365.5 L950.3 367.5 L952.6 369.4 L954.8 371.4 L957.1 373.4 L959.3 375.3 L961.5 377.4 L963.7 379.4 L965.8 381.6 L967.8 383.8 L969.8 386.0 L971.7 388.3 L973.7 390.6 L975.6 392.9 L977.6 395.2 L979.5 397.5 L981.4 399.8 L983.3 402.1 L985.1 404.5 L987.0 406.8 L988.9 409.2 L990.7 411.5 L992.6 413.9 L994.4 416.3 L996.2 418.7 L998.0 421.0 L999.8 423.5 L1001.6 425.9 L1003.2 428.4 L1004.9 430.9 L1006.5 433.4 L1008.1 435.9 L1009.8 438.5 L1011.3 441.0 L1012.9 443.5 L1014.5 446.1 L1016.1 448.7 L1017.6 451.2 L1019.2 453.8 L1020.7 456.4 L1022.2 459.0 L1023.7 461.6 L1025.2 464.2 L1026.7 466.8 L1028.2 469.4 L1029.7 472.0 L1031.2 474.6 L1032.6 477.2 L1034.1 479.8 L1035.6 482.4 L1037.2 485.0 L1038.7 487.5 L1040.3 490.1 L1041.9 492.6 L1043.5 495.1 L1045.3 497.6 L1047.1 500.0 L1048.9 502.3 L1050.8 504.6 L1052.9 506.8 L1055.0 508.8 L1057.3 510.7 L1059.8 512.4 L1062.3 513.8 L1064.8 514.9 L1067.5 515.5 L1070.2 515.4 L1072.9 514.7 L1075.5 513.6 L1078.0 512.2 L1080.4 510.4 L1082.5 508.4 L1084.6 506.3 L1086.7 504.1 L1088.7 501.9 L1090.7 499.7 L1092.7 497.4 L1094.7 495.2 L1096.6 492.9 L1098.6 490.7 L1100.6 488.4 L1102.6 486.2 L1104.7 484.0 L1106.8 481.9 L1109.0 479.9 L1111.3 477.9 L1113.5 476.0 L1115.8 474.0 L1118.1 472.1 L1120.4 470.1 L1122.6 468.2 L1124.9 466.2 L1127.2 464.2 L1129.5 462.3 L1131.7 460.3 L1133.9 458.3 L1136.1 456.2 L1138.3 454.2 L1140.4 452.0 L1142.5 449.9 L1144.4 447.6 L1146.3 445.3 L1148.1 442.9 L1149.8 440.4 L1151.4 437.9 L1153.1 435.4 L1154.7 432.9 L1156.2 430.3 L1157.8 427.8 L1159.3 425.2 L1160.9 422.6 L1162.5 420.1 L1164.1 417.6 L1165.8 415.1 L1167.5 412.6 L1169.3 410.2 L1171.1 407.8 L1173.0 405.6 L1175.1 403.5 L1177.4 401.5 L1179.7 399.7 L1182.2 398.1 L1184.8 396.7 L1187.5 395.6 L1190.3 394.7 L1193.2 394.0 L1196.1 393.6 L1199.0 393.5 L1202.0 393.6 L1205.0 393.8 L1207.9 394.2 L1210.9 394.5 L1213.9 394.9 L1216.9 395.3 L1219.8 395.7 L1222.8 396.3 L1225.7 396.8 L1228.7 397.4 L1231.6 398.0 L1234.5 398.6 L1237.5 399.2 L1240.4 399.8 L1243.3 400.5 L1246.2 401.2 L1249.1 402.1 L1252.0 403.0 L1254.8 403.9 L1257.6 404.9 L1260.4 406.0 L1263.2 407.1 L1265.9 408.4 L1268.5 409.8 L1271.1 411.4 L1273.6 413.0 L1276.1 414.6 L1278.5 416.4 L1280.8 418.2 L1283.1 420.2 L1285.3 422.3 L1287.4 424.4 L1289.5 426.5 L1291.6 428.6 L1293.6 430.9 L1295.5 433.2 L1297.2 435.6 L1299.0 438.0 L1300.6 440.5 L1302.3 443.0 L1303.9 445.5 L1305.6 448.0 L1307.2 450.5 L1308.8 453.1 L1310.3 455.7 L1311.7 458.3 L1313.1 461.0 L1314.5 463.7 L1315.8 466.3 L1317.2 469.0 L1318.5 471.7 L1319.8 474.4 L1321.0 477.1 L1322.2 479.9 L1323.3 482.7 L1324.4 485.5 L1325.4 488.3 L1326.5 491.1 L1327.6 493.9 L1328.6 496.7 L1329.6 499.5 L1330.6 502.4 L1331.6 505.2 L1332.5 508.1 L1333.4 510.9 L1334.2 513.8 L1335.1 516.7 L1336.0 519.5 L1336.8 522.4 L1337.6 525.3 L1338.4 528.2 L1339.1 531.1 L1339.8 534.0 L1340.5 536.9 L1341.2 539.9 L1341.8 542.8 L1342.5 545.7 L1343.2 548.6 L1343.8 551.6 L1344.4 554.5 L1345.1 557.4 L1345.7 560.4 L1346.3 563.3 L1347.0 566.2 L1347.6 569.2 L1348.2 572.1 L1348.8 575.0 L1349.5 578.0 L1350.1 580.9 L1350.7 583.8 L1351.3 586.8 L1352.0 589.7 L1352.6 592.6 L1353.3 595.6 L1353.9 598.5 L1354.7 601.4 L1355.5 604.3 L1356.3 607.1 L1357.3 610.0 L1358.2 612.8 L1359.1 615.7 L1360.1 618.5 L1361.1 621.4 L1362.0 624.2 L1363.1 627.0 L1364.2 629.8 L1365.3 632.6 L1366.5 635.3 L1367.7 638.1 L1368.9 640.8 L1370.2 643.6 L1371.4 646.3 L1372.6 649.0 L1373.8 651.8 L1375.1 654.5 L1376.4 657.2 L1377.7 659.9 L1379.1 662.6 L1380.4 665.3 L1381.8 667.9 L1383.2 670.6 L1384.5 673.3 L1385.9 675.9 L1387.3 678.6 L1388.8 681.2 L1390.2 683.8 L1391.6 686.5 L1393.0 689.1 L1394.4 691.8 L1395.9 694.4 L1397.3 697.1 L1398.7 699.7 L1400.1 702.3 L1401.5 705.0 L1403.0 707.6 L1404.4 710.3 L1405.8 712.9 L1407.2 715.6 L1408.6 718.2 L1410.0 720.9 L1411.5 723.5 L1412.9 726.1 L1414.3 728.8 L1415.7 731.4 L1417.1 734.1 L1418.5 736.7 L1419.9 739.4 L1421.3 742.0 L1422.7 744.7 L1424.1 747.3 L1425.5 750.0 L1427.0 752.6 L1428.4 755.2 L1429.9 757.8 L1431.4 760.4 L1433.0 763.0 L1434.6 765.5 L1436.2 768.1 L1437.8 770.6 L1439.5 773.1 L1441.3 775.4 L1443.2 777.7 L1445.3 779.9 L1447.4 782.0 L1449.5 784.0 L1451.8 785.9 L1454.3 787.6 L1456.8 789.1 L1459.4 790.6 L1462.1 791.9 L1464.8 793.2 L1467.5 794.5 L1470.2 795.8 L1473.0 797.0 L1475.7 798.3 L1478.4 799.6 L1481.1 800.9 L1483.8 802.2 L1486.4 803.7 L1489.0 805.1 L1491.6 806.6 L1494.2 808.2 L1496.7 809.8 L1499.1 811.6 L1501.5 813.4 L1503.8 815.3 L1506.1 817.2 L1508.4 819.1 L1510.6 821.1 L1512.8 823.1 L1515.0 825.2 L1517.1 827.4 L1519.2 829.5 L1521.4 831.6 L1523.6 833.6 L1525.8 835.6 L1528.1 837.5 L1530.4 839.4 L1532.8 841.3 L1535.1 843.1 L1537.5 844.9 L1540.0 846.6 L1542.5 848.3 L1545.0 849.9 L1547.6 851.4 L1550.2 852.8 L1552.9 854.1 L1555.7 855.2 L1558.5 856.1 L1561.4 856.9 L1564.3 857.6 L1567.2 858.3 L1570.1 858.9 L1573.1 859.6 L1576.0 860.2 L1578.9 860.8 L1581.8 861.6 L1584.7 862.4 L1587.6 863.3 L1590.4 864.2 L1593.2 865.2 L1596.1 866.2 L1598.9 867.2 L1601.7 868.2 L1604.6 869.2 L1607.4 870.2 L1610.3 871.1 L1613.1 872.0 L1616.0 872.9 L1618.8 873.8 L1621.7 874.7 L1624.6 875.5 L1627.5 876.4 L1630.3 877.2 L1633.2 878.1 L1636.1 879.0 L1638.9 879.9 L1641.8 880.7 L1644.7 881.6 L1647.6 882.4 L1650.4 883.3 L1653.3 884.1 L1656.2 884.8 L1659.2 885.5 L1662.1 886.2 L1665.0 886.8 L1667.9 887.5 L1670.8 888.2 L1673.7 889.0 L1676.6 889.9 L1679.4 891.0 L1682.2 892.1 L1684.9 893.2 L1687.7 894.4 L1690.3 895.8 L1693.0 897.2 L1695.6 898.7 L1698.2 900.2 L1700.8 901.7 L1703.4 903.1 L1706.1 904.4 L1708.8 905.7 L1711.5 906.9 L1714.3 908.1 L1717.1 909.2 L1719.9 910.1 L1722.8 911.0 L1725.7 911.7 L1728.6 912.5 L1731.5 913.2 L1734.4 914.0 L1737.3 914.7 L1740.2 915.4 L1743.1 916.1 L1746.1 916.8 L1749.0 917.3 L1751.9 917.8 L1754.9 918.2 L1757.9 918.4 L1760.8 918.4 L1763.7 918.2 L1766.6 917.6 L1769.5 916.8 L1772.3 915.8 L1774.9 914.5 L1777.5 913.1 L1780.1 911.6 L1782.8 910.2 L1785.4 908.8 L1788.1 907.6 L1790.9 906.5 L1793.7 905.5 L1796.6 904.8 L1799.5 904.3 L1802.4 904.0 L1805.4 904.0 L1808.3 904.3 L1811.3 904.7 L1814.2 905.3 L1817.2 905.9 L1820.1 906.5 L1823.1 907.0 L1826.0 907.6 L1828.9 908.2 L1831.9 908.8 L1834.8 909.4 L1837.8 910.0 L1840.7 910.6 L1843.6 911.2 L1846.6 911.8 L1849.5 912.4 L1852.5 912.9 L1855.4 913.5 L1858.4 914.1 L1861.3 914.7 L1864.2 915.3 L1867.2 915.8 L1870.1 916.3 L1873.1 916.8 L1876.1 917.2 L1879.0 917.7 L1882.0 918.1 L1885.0 918.5 L1888.0 918.9 L1890.9 919.3 L1893.9 919.7 L1896.9 920.0 L1899.9 920.3 L1902.9 920.4 L1905.8 920.5 L1908.8 920.5 L1911.8 920.6 L1914.8 920.7 L1917.8 920.8 L1920.8 921.1 L1923.8 921.4 L1926.8 921.9 L1929.7 922.3 L1932.7 922.8 L1935.6 923.3 L1938.6 923.8 L1941.5 924.4 L1944.5 924.9 L1947.4 925.5 L1950.4 926.1 L1953.3 926.7 L1956.2 927.3 L1959.2 927.9 L1962.1 928.5 L1965.1 929.2 L1968.0 929.8 L1970.9 930.4 L1973.8 931.1 L1976.8 931.8 L1979.7 932.4 L1982.6 933.2 L1985.5 933.9 L1988.4 934.7 L1991.3 935.5 L1994.1 936.4 L1997.0 937.3 L1999.9 938.2 L2002.7 939.1 L2005.6 940.1 L2008.4 941.1 L2011.2 942.1 L2014.0 943.1 L2016.8 944.2 L2019.6 945.4 L2022.2 946.7 L2024.9 948.1 L2027.4 949.7 L2030.0 951.3 L2032.4 952.9 L2034.9 954.7 L2037.2 956.5 L2039.5 958.4 L2041.7 960.4 L2043.9 962.5 L2046.1 964.5 L2048.3 966.6 L2050.5 968.6 L2052.8 970.5 L2055.1 972.5 L2057.4 974.3 L2059.8 976.2 L2062.2 977.9 L2064.7 979.5 L2067.3 980.8 L2070.1 981.8 L2072.9 982.7 L2075.8 983.4 L2078.8 984.0 L2081.7 984.5 L2084.7 984.9 L2087.7 985.3 L2090.6 985.6 L2093.6 985.9 L2096.6 986.2 L2099.6 986.4 L2102.6 986.6 L2105.6 986.8 L2108.6 986.9 L2111.6 987.0 L2114.6 987.1 L2117.6 987.3 L2120.6 987.4 L2123.6 987.5 L2126.6 987.6 L2129.5 987.9 L2132.5 988.2 L2135.5 988.7 L2138.4 989.2 L2141.4 989.7 L2144.3 990.3 L2147.3 990.9 L2150.2 991.5 L2153.1 992.3 L2155.9 993.2 L2158.8 994.2 L2161.6 995.2 L2164.4 996.2 L2167.2 997.2 L2170.0 998.3 L2172.8 999.4 L2175.6 1000.6 L2178.3 1001.8 L2181.0 1003.0 L2183.8 1004.3 L2186.5 1005.6 L2189.2 1006.8 L2191.9 1008.0 L2194.7 1009.2 L2197.5 1010.4 L2200.2 1011.5 L2203.0 1012.6 L2205.9 1013.6 L2208.7 1014.7 L2211.5 1015.7 L2214.3 1016.8 L2217.1 1017.8 L2219.9 1018.9 L2222.7 1020.0 L2225.5 1021.1 L2228.3 1022.2 L2231.1 1023.3 L2233.9 1024.4 L2236.6 1025.5 L2239.4 1026.6 L2242.2 1027.6 L2245.1 1028.6 L2247.9 1029.5 L2250.8 1030.2 L2253.7 1030.9 L2256.7 1031.6 L2259.6 1032.3 L2262.5 1032.9 L2265.5 1033.5 L2268.4 1034.1 L2271.3 1034.6 L2274.3 1035.2 L2277.2 1035.7 L2280.2 1036.3 L2283.1 1036.8 L2286.1 1037.5 L2289.0 1038.2 L2291.9 1039.0 L2294.7 1039.8 L2297.6 1040.7 L2300.5 1041.5 L2303.4 1042.4 L2306.2 1043.3 L2309.1 1044.1 L2312.0 1045.0 L2314.9 1045.9 L2317.7 1046.7 L2320.6 1047.6 L2323.4 1048.5 L2326.3 1049.5 L2329.1 1050.4 L2332.0 1051.4 L2334.8 1052.3 L2337.7 1053.3 L2340.5 1054.4 L2343.3 1055.4 L2346.1 1056.5 L2348.8 1057.6 L2351.6 1058.8 L2354.4 1059.9 L2357.2 1061.0 L2360.0 1062.1 L2362.8 1063.2 L2365.6 1064.3 L2368.4 1065.4 L2371.1 1066.6 L2373.9 1067.7 L2376.7 1068.9 L2379.4 1070.0 L2382.2 1071.2 L2385.0 1072.4 L2387.7 1073.5 L2390.5 1074.6 L2393.4 1075.6 L2396.2 1076.5 L2399.1 1077.4 L2401.9 1078.2 L2404.8 1079.0 L2407.7 1079.8 L2410.7 1080.4 L2413.6 1080.9 L2416.6 1081.4 L2419.5 1081.9 L2422.3 1082.4 L2424.8 1082.8 L2427.0 1083.1 L2428.8 1083.4" fill="none" stroke="#ff0000" stroke-width="11.5" stroke-linecap="round" stroke-linejoin="round"/>
<path d="M288.4 1307.6 L290.3 1309.9 L292.1 1312.3 L294.0 1314.6 L295.9 1317.0 L297.7 1319.3 L299.6 1321.7 L301.5 1324.0 L303.3 1326.4 L305.2 1328.7 L307.1 1331.1 L308.9 1333.4 L310.8 1335.8 L312.7 1338.1 L314.5 1340.5 L316.4 1342.8 L318.2 1345.2 L320.1 1347.6 L321.9 1350.0 L323.7 1352.3 L325.6 1354.7 L327.4 1357.1 L329.2 1359.5 L331.0 1361.8 L332.9 1364.2 L334.7 1366.6 L336.5 1369.0 L338.4 1371.3 L340.2 1373.7 L342.0 1376.1 L343.9 1378.5 L345.7 1380.9 L347.5 1383.2 L349.3 1385.6 L351.2 1388.0 L353.0 1390.4 L354.8 1392.7 L356.7 1395.1 L358.5 1397.5 L360.3 1399.9 L362.2 1402.3 L364.0 1404.6 L365.8 1407.0 L367.6 1409.4 L369.5 1411.8 L371.3 1414.1 L373.1 1416.5 L375.0 1418.9 L376.8 1421.3 L378.6 1423.7 L380.4 1426.0 L382.3 1428.4 L384.1 1430.8 L385.9 1433.2 L387.8 1435.5 L389.6 1437.9 L391.4 1440.3 L393.3 1442.7 L395.1 1445.1 L396.9 1447.4 L398.7 1449.8 L400.6 1452.2 L402.4 1454.6 L404.2 1456.9 L406.0 1459.3 L407.9 1461.7 L409.7 1464.1 L411.5 1466.5 L413.4 1468.8 L415.2 1471.2 L417.0 1473.6 L418.8 1476.0 L420.7 1478.4 L422.5 1480.7 L424.3 1483.1 L426.2 1485.5 L428.0 1487.8 L429.9 1490.1 L431.9 1492.4 L433.9 1494.7 L435.9 1496.9 L437.9 1499.1 L439.9 1501.3 L442.0 1503.5 L444.0 1505.7 L446.1 1507.9 L448.3 1509.9 L450.6 1511.8 L452.9 1513.6 L455.3 1515.4 L457.8 1517.1 L460.3 1518.8 L462.8 1520.5 L465.3 1522.0 L468.0 1523.3 L470.7 1524.4 L473.6 1525.3 L476.4 1526.1 L479.3 1526.9 L482.2 1527.7 L485.1 1528.4 L488.0 1529.2 L490.9 1530.0 L493.8 1530.7 L496.7 1531.5 L499.6 1532.2 L502.5 1533.0 L505.4 1533.7 L508.4 1534.4 L511.3 1535.2 L514.2 1535.9 L517.1 1536.6 L520.0 1537.4 L522.9 1538.1 L525.8 1538.8 L528.7 1539.5 L531.6 1540.2 L534.6 1540.9 L537.5 1541.6 L540.4 1542.3 L543.3 1542.9 L546.3 1543.6 L549.2 1544.2 L552.1 1544.8 L555.1 1545.5 L558.0 1546.0 L561.0 1546.5 L563.9 1546.9 L566.9 1547.2 L569.9 1547.6 L572.9 1547.8 L575.9 1548.1 L578.8 1548.4 L581.8 1548.7 L584.8 1549.0 L587.8 1549.3 L590.8 1549.6 L593.8 1549.9 L596.8 1550.2 L599.7 1550.5 L602.7 1550.8 L605.7 1551.1 L608.7 1551.4 L611.7 1551.7 L614.7 1552.0 L617.7 1552.2 L620.6 1552.5 L623.6 1552.7 L626.6 1553.0 L629.6 1553.2 L632.6 1553.4 L635.6 1553.7 L638.6 1553.9 L641.6 1554.1 L644.6 1554.3 L647.6 1554.4 L650.6 1554.6 L653.6 1554.7 L656.6 1554.7 L659.6 1554.8 L662.6 1554.9 L665.6 1555.0 L668.6 1555.0 L671.6 1555.1 L674.6 1555.3 L677.5 1555.5 L680.5 1555.7 L683.5 1556.0 L686.5 1556.3 L689.5 1556.6 L692.5 1556.9 L695.5 1557.2 L698.4 1557.5 L701.4 1557.9 L704.4 1558.2 L707.4 1558.7 L710.3 1559.2 L713.3 1559.7 L716.2 1560.2 L719.2 1560.7 L722.1 1561.2 L725.1 1561.7 L728.1 1562.2 L731.0 1562.7 L734.0 1563.1 L737.0 1563.5 L739.9 1563.8 L742.9 1564.2 L745.9 1564.5 L748.9 1564.8 L751.9 1565.1 L754.9 1565.3 L757.8 1565.6 L760.8 1565.7 L763.8 1565.8 L766.8 1565.7 L769.8 1565.5 L772.8 1565.3 L775.8 1565.1 L778.8 1564.8 L781.8 1564.6 L784.8 1564.3 L787.7 1564.0 L790.7 1563.6 L793.6 1563.0 L796.5 1562.3 L799.4 1561.6 L802.3 1560.8 L805.2 1560.0 L808.1 1559.2 L811.0 1558.4 L813.9 1557.6 L816.7 1556.7 L819.6 1555.7 L822.4 1554.7 L825.1 1553.5 L827.9 1552.3 L830.6 1551.1 L833.3 1549.8 L836.1 1548.6 L838.8 1547.3 L841.5 1546.1 L844.3 1544.9 L847.0 1543.7 L849.8 1542.6 L852.6 1541.6 L855.4 1540.6 L858.3 1539.7 L861.2 1538.9 L864.1 1538.0 L866.9 1537.2 L869.9 1536.5 L872.8 1536.0 L875.7 1535.6 L878.7 1535.3 L881.7 1535.1 L884.7 1534.9 L887.7 1534.7 L890.7 1534.5 L893.7 1534.4 L896.7 1534.3 L899.7 1534.3 L902.7 1534.3 L905.7 1534.3 L908.7 1534.3 L911.7 1534.4 L914.7 1534.5 L917.7 1534.6 L920.6 1534.9 L923.6 1535.1 L926.6 1535.4 L929.6 1535.7 L932.6 1536.0 L935.6 1536.3 L938.6 1536.7 L941.5 1537.1 L944.5 1537.5 L947.5 1537.8 L950.4 1538.3 L953.4 1538.7 L956.4 1539.1 L959.3 1539.6 L962.3 1540.1 L965.2 1540.7 L968.2 1541.3 L971.1 1541.9 L974.1 1542.5 L977.0 1543.2 L979.9 1543.9 L982.8 1544.6 L985.7 1545.4 L988.6 1546.3 L991.4 1547.1 L994.3 1548.0 L997.2 1548.9 L1000.0 1549.7 L1002.9 1550.6 L1005.8 1551.6 L1008.6 1552.5 L1011.5 1553.5 L1014.3 1554.4 L1017.2 1555.3 L1020.0 1556.3 L1022.8 1557.2 L1025.7 1558.2 L1028.5 1559.1 L1031.4 1560.1 L1034.2 1561.0 L1037.1 1562.0 L1039.9 1562.9 L1042.8 1563.8 L1045.7 1564.6 L1048.6 1565.4 L1051.5 1566.1 L1054.4 1566.8 L1057.3 1567.5 L1060.2 1568.2 L1063.2 1568.8 L1066.1 1569.3 L1069.1 1569.8 L1072.0 1570.2 L1075.0 1570.5 L1078.0 1570.8 L1081.0 1571.1 L1084.0 1571.4 L1086.9 1571.9 L1089.9 1572.3 L1092.8 1572.9 L1095.8 1573.6 L1098.7 1574.2 L1101.6 1574.9 L1104.5 1575.6 L1107.5 1576.2 L1110.4 1576.8 L1113.3 1577.3 L1116.3 1577.8 L1119.3 1578.2 L1122.2 1578.5 L1125.2 1578.6 L1128.2 1578.5 L1131.2 1578.3 L1134.1 1578.1 L1137.1 1577.7 L1140.1 1577.4 L1143.1 1577.0 L1146.0 1576.5 L1149.0 1576.1 L1152.0 1575.7 L1154.9 1575.2 L1157.9 1574.8 L1160.9 1574.4 L1163.9 1574.1 L1166.9 1573.9 L1169.9 1573.6 L1172.8 1573.4 L1175.8 1573.2 L1178.8 1573.0 L1181.8 1572.8 L1184.8 1572.6 L1187.8 1572.4 L1190.8 1572.2 L1193.8 1572.0 L1196.8 1571.8 L1199.8 1571.6 L1202.8 1571.5 L1205.8 1571.3 L1208.8 1571.1 L1211.8 1571.0 L1214.8 1570.9 L1217.8 1570.7 L1220.8 1570.6 L1223.8 1570.5 L1226.8 1570.3 L1229.8 1570.2 L1232.8 1570.2 L1235.8 1570.1 L1238.7 1570.0 L1241.7 1570.0 L1244.7 1569.9 L1247.7 1569.9 L1250.7 1569.8 L1253.7 1569.8 L1256.7 1569.8 L1259.7 1569.8 L1262.7 1569.8 L1265.7 1569.8 L1268.7 1569.9 L1271.7 1570.0 L1274.7 1570.2 L1277.7 1570.3 L1280.7 1570.5 L1283.7 1570.7 L1286.7 1571.0 L1289.7 1571.2 L1292.7 1571.4 L1295.7 1571.6 L1298.7 1571.8 L1301.7 1571.9 L1304.7 1572.2 L1307.7 1572.4 L1310.6 1572.7 L1313.6 1573.0 L1316.6 1573.5 L1319.5 1574.0 L1322.5 1574.6 L1325.4 1575.2 L1328.3 1575.8 L1331.2 1576.5 L1334.1 1577.3 L1336.9 1578.2 L1339.7 1579.3 L1342.5 1580.5 L1345.2 1581.6 L1348.0 1582.8 L1350.8 1583.8 L1353.7 1584.7 L1356.6 1585.5 L1359.5 1586.2 L1362.4 1586.9 L1365.3 1587.3 L1368.3 1587.5 L1371.2 1587.6 L1374.2 1587.6 L1377.2 1587.5 L1380.2 1587.4 L1383.2 1587.4 L1386.2 1587.3 L1389.2 1587.4 L1392.2 1587.4 L1395.2 1587.5 L1398.2 1587.6 L1401.2 1587.7 L1404.2 1587.8 L1407.2 1587.9 L1410.2 1587.9 L1413.2 1588.0 L1416.2 1588.1 L1419.2 1588.1 L1422.2 1588.2 L1425.2 1588.2 L1428.2 1588.2 L1431.2 1588.1 L1434.2 1587.9 L1437.2 1587.7 L1440.2 1587.5 L1443.2 1587.3 L1446.2 1587.1 L1449.2 1586.8 L1452.1 1586.6 L1455.1 1586.5 L1458.1 1586.3 L1461.1 1586.3 L1464.1 1586.3 L1467.1 1586.3 L1470.1 1586.4 L1473.1 1586.4 L1476.1 1586.5 L1479.1 1586.6 L1482.1 1586.7 L1485.1 1586.8 L1488.1 1586.9 L1491.1 1587.0 L1494.1 1587.1 L1497.1 1587.3 L1500.1 1587.4 L1503.1 1587.6 L1506.1 1587.7 L1509.1 1587.9 L1512.1 1588.0 L1515.1 1588.2 L1518.1 1588.3 L1521.1 1588.4 L1524.1 1588.5 L1527.1 1588.6 L1530.1 1588.6 L1533.1 1588.7 L1536.1 1588.8 L1539.1 1588.8 L1542.1 1588.9 L1545.1 1589.0 L1548.1 1589.1 L1551.1 1589.1 L1554.1 1589.2 L1557.1 1589.3 L1560.1 1589.4 L1563.1 1589.4 L1566.1 1589.5 L1569.1 1589.6 L1572.1 1589.7 L1575.1 1589.9 L1578.0 1590.1 L1581.0 1590.4 L1584.0 1590.7 L1587.0 1591.0 L1590.0 1591.3 L1593.0 1591.6 L1596.0 1591.9 L1598.9 1592.2 L1601.9 1592.5 L1604.9 1592.9 L1607.9 1593.4 L1610.8 1593.9 L1613.8 1594.3 L1616.7 1594.8 L1619.7 1595.4 L1622.6 1595.9 L1625.5 1596.6 L1628.4 1597.3 L1631.3 1598.1 L1634.2 1599.0 L1637.1 1599.8 L1640.0 1600.7 L1642.8 1601.5 L1645.7 1602.4 L1648.6 1603.2 L1651.5 1604.0 L1654.4 1604.8 L1657.3 1605.5 L1660.2 1606.3 L1663.1 1607.0 L1666.0 1607.7 L1669.0 1608.3 L1671.9 1608.8 L1674.9 1609.1 L1677.9 1609.5 L1680.8 1609.8 L1683.8 1610.1 L1686.8 1610.3 L1689.8 1610.6 L1692.8 1610.9 L1695.8 1611.1 L1698.8 1611.3 L1701.8 1611.5 L1704.8 1611.7 L1707.8 1611.9 L1710.7 1612.1 L1713.7 1612.2 L1716.7 1612.4 L1719.7 1612.5 L1722.7 1612.5 L1725.7 1612.5 L1728.7 1612.5 L1731.7 1612.5 L1734.7 1612.4 L1737.7 1612.3 L1740.7 1612.2 L1743.7 1611.9 L1746.7 1611.6 L1749.7 1611.2 L1752.6 1610.8 L1755.6 1610.4 L1758.6 1610.0 L1761.5 1609.7 L1764.5 1609.3 L1767.5 1608.9 L1770.5 1608.6 L1773.5 1608.4 L1776.5 1608.2 L1779.5 1608.1 L1782.5 1608.0 L1785.5 1607.9 L1788.5 1607.8 L1791.4 1607.7 L1794.4 1607.6 L1797.4 1607.5 L1800.4 1607.4 L1803.4 1607.4 L1806.4 1607.4 L1809.4 1607.5 L1812.4 1607.5 L1815.4 1607.6 L1818.4 1607.7 L1821.4 1607.8 L1824.4 1607.8 L1827.4 1607.9 L1830.4 1608.0 L1833.4 1608.0 L1836.4 1608.1 L1839.4 1608.2 L1842.4 1608.2 L1845.4 1608.2 L1848.4 1608.2 L1851.4 1608.2 L1854.4 1608.2 L1857.4 1608.1 L1860.4 1608.1 L1863.4 1608.0 L1866.4 1608.0 L1869.4 1607.9 L1872.4 1607.9 L1875.4 1607.8 L1878.4 1607.8 L1881.4 1607.8 L1884.4 1607.7 L1887.4 1607.7 L1890.4 1607.7 L1893.4 1607.7 L1896.4 1607.7 L1899.4 1607.7 L1902.4 1607.7 L1905.4 1607.7 L1908.4 1607.7 L1911.4 1607.7 L1914.4 1607.7 L1917.4 1607.7 L1920.4 1607.7 L1923.4 1607.7 L1926.4 1607.7 L1929.4 1607.7 L1932.4 1607.6 L1935.4 1607.6 L1938.4 1607.6 L1941.4 1607.5 L1944.4 1607.5 L1947.4 1607.4 L1950.4 1607.4 L1953.4 1607.4 L1956.4 1607.4 L1959.4 1607.4 L1962.4 1607.5 L1965.4 1607.5 L1968.4 1607.6 L1971.4 1607.7 L1974.4 1607.8 L1977.4 1607.9 L1980.4 1608.0 L1983.4 1608.1 L1986.4 1608.3 L1989.4 1608.5 L1992.4 1608.7 L1995.4 1608.9 L1998.4 1609.2 L2001.3 1609.5 L2004.3 1609.9 L2007.3 1610.2 L2010.3 1610.7 L2013.2 1611.1 L2016.2 1611.7 L2019.1 1612.2 L2022.1 1612.8 L2025.0 1613.4 L2027.9 1614.0 L2030.9 1614.6 L2033.8 1615.2 L2036.8 1615.7 L2039.7 1616.2 L2042.7 1616.7 L2045.7 1617.0 L2048.7 1617.4 L2051.6 1617.7 L2054.6 1618.0 L2057.6 1618.3 L2060.6 1618.6 L2063.6 1618.9 L2066.6 1619.1 L2069.5 1619.4 L2072.5 1619.7 L2075.5 1619.9 L2078.5 1620.2 L2081.5 1620.4 L2084.5 1620.6 L2087.5 1620.9 L2090.5 1621.1 L2093.5 1621.3 L2096.5 1621.5 L2099.5 1621.8 L2102.4 1622.0 L2105.4 1622.2 L2108.4 1622.4 L2111.4 1622.7 L2114.4 1623.0 L2117.4 1623.3 L2120.4 1623.6 L2123.4 1624.0 L2126.3 1624.3 L2129.3 1624.7 L2132.3 1625.0 L2135.3 1625.3 L2138.3 1625.7 L2141.2 1626.0 L2144.2 1626.2 L2147.2 1626.5 L2150.2 1626.7 L2153.2 1627.0 L2156.2 1627.2 L2159.2 1627.5 L2162.2 1627.7 L2165.2 1628.0 L2168.1 1628.2 L2171.1 1628.5 L2174.1 1628.7 L2177.1 1629.0 L2180.1 1629.2 L2183.1 1629.5 L2186.1 1629.7 L2189.1 1629.9 L2192.1 1630.1 L2195.1 1630.3 L2198.1 1630.5 L2201.0 1630.7 L2204.0 1630.9 L2207.0 1631.1 L2210.0 1631.3 L2213.0 1631.5 L2216.0 1631.7 L2219.0 1631.9 L2222.0 1632.1 L2225.0 1632.3 L2228.0 1632.4 L2231.0 1632.6 L2234.0 1632.7 L2237.0 1632.9 L2240.0 1633.0 L2243.0 1633.2 L2246.0 1633.3 L2249.0 1633.5 L2252.0 1633.6 L2255.0 1633.6 L2258.0 1633.6 L2261.0 1633.6 L2264.0 1633.5 L2267.0 1633.4 L2270.0 1633.3 L2272.9 1633.2 L2275.9 1633.1 L2278.9 1632.9 L2281.9 1632.7 L2284.9 1632.5 L2287.9 1632.2 L2290.9 1632.0 L2293.9 1631.8 L2296.9 1631.5 L2299.9 1631.3 L2302.9 1631.0 L2305.9 1630.8 L2308.8 1630.6 L2311.8 1630.4 L2314.8 1630.3 L2317.8 1630.2 L2320.8 1630.1 L2323.8 1630.0 L2326.8 1630.0 L2329.8 1629.9 L2332.8 1629.9 L2335.8 1629.8 L2338.8 1629.8 L2341.8 1629.7 L2344.8 1629.7 L2347.8 1629.6 L2350.8 1629.6 L2353.8 1629.6 L2356.8 1629.6 L2359.8 1629.6 L2362.8 1629.6 L2365.8 1629.6 L2368.8 1629.7 L2371.8 1629.7 L2374.8 1629.8 L2377.8 1629.8 L2380.8 1629.8 L2383.8 1629.9 L2386.8 1629.9 L2389.8 1630.0 L2392.8 1630.0 L2395.8 1630.0 L2398.8 1630.1 L2401.8 1630.1 L2404.8 1630.2 L2407.8 1630.2 L2410.8 1630.2 L2413.8 1630.3 L2416.8 1630.3 L2419.8 1630.4 L2422.6 1630.4 L2425.0 1630.4 L2426.9 1630.5 L2428.9 1630.5" fill="none" stroke="#0000ff" stroke-width="11.5" stroke-linecap="round" stroke-linejoin="round"/>
<path d="M341.0 70.5 L341.4 73.5 L341.9 76.4 L342.3 79.4 L342.8 82.4 L343.2 85.3 L343.7 88.3 L344.1 91.3 L344.5 94.2 L345.0 97.2 L345.4 100.2 L345.9 103.1 L346.3 106.1 L346.8 109.1 L347.2 112.0 L347.6 115.0 L348.1 118.0 L348.5 120.9 L349.0 123.9 L349.4 126.9 L349.8 129.8 L350.3 132.8 L350.7 135.8 L351.2 138.7 L351.6 141.7 L352.1 144.7 L352.5 147.6 L352.9 150.6 L353.4 153.6 L353.8 156.5 L354.3 159.5 L354.7 162.5 L355.2 165.4 L355.6 168.4 L356.1 171.4 L356.5 174.3 L357.0 177.3 L357.4 180.3 L357.9 183.2 L358.3 186.2 L358.8 189.2 L359.2 192.1 L359.7 195.1 L360.1 198.1 L360.6 201.0 L361.0 204.0 L361.5 207.0 L361.9 209.9 L362.4 212.9 L362.8 215.9 L363.3 218.8 L363.7 221.8 L364.2 224.8 L364.6 227.7 L365.1 230.7 L365.5 233.7 L366.0 236.6 L366.5 239.6 L366.9 242.6 L367.4 245.5 L367.9 248.5 L368.4 251.4 L368.8 254.4 L369.3 257.4 L369.8 260.3 L370.2 263.3 L370.7 266.3 L371.1 269.2 L371.5 272.2 L371.9 275.2 L372.3 278.2 L372.6 281.1 L373.0 284.1 L373.4 287.1 L373.8 290.1 L374.1 293.0 L374.5 296.0 L374.9 299.0 L375.2 302.0 L375.6 304.9 L376.0 307.9 L376.4 310.9 L376.7 313.9 L377.1 316.9 L377.5 319.8 L377.9 322.8 L378.3 325.8 L378.8 328.7 L379.2 331.7 L379.7 334.7 L380.1 337.6 L380.6 340.6 L381.0 343.6 L381.4 346.5 L381.8 349.5 L382.2 352.5 L382.6 355.5 L383.0 358.4 L383.4 361.4 L383.7 364.4 L384.1 367.4 L384.5 370.3 L384.9 373.3 L385.3 376.3 L385.7 379.3 L386.1 382.2 L386.6 385.2 L387.0 388.2 L387.5 391.1 L387.9 394.1 L388.4 397.1 L388.8 400.0 L389.3 403.0 L389.8 405.9 L390.3 408.9 L390.8 411.9 L391.3 414.8 L391.8 417.8 L392.3 420.7 L392.8 423.7 L393.3 426.6 L393.8 429.6 L394.3 432.6 L394.7 435.5 L395.2 438.5 L395.7 441.5 L396.1 444.4 L396.5 447.4 L397.0 450.4 L397.5 453.3 L397.9 456.3 L398.4 459.2 L398.9 462.2 L399.5 465.2 L400.0 468.1 L400.6 471.1 L401.1 474.0 L401.6 477.0 L402.2 479.9 L402.7 482.9 L403.3 485.8 L403.8 488.8 L404.4 491.7 L404.9 494.7 L405.4 497.6 L405.8 500.6 L406.3 503.5 L406.7 506.5 L407.1 509.5 L407.4 512.5 L407.8 515.5 L408.2 518.4 L408.5 521.4 L408.9 524.4 L409.3 527.4 L409.7 530.3 L410.0 533.3 L410.4 536.3 L410.8 539.3 L411.2 542.2 L411.5 545.2 L411.9 548.2 L412.3 551.2 L412.7 554.1 L413.1 557.1 L413.5 560.1 L413.9 563.1 L414.3 566.0 L414.8 569.0 L415.2 572.0 L415.7 574.9 L416.1 577.9 L416.5 580.9 L417.0 583.8 L417.4 586.8 L417.9 589.8 L418.3 592.7 L418.7 595.7 L419.2 598.7 L419.6 601.6 L420.1 604.6 L420.5 607.6 L421.0 610.5 L421.4 613.5 L421.9 616.5 L422.3 619.4 L422.7 622.4 L423.2 625.4 L423.7 628.3 L424.1 631.3 L424.6 634.3 L425.0 637.2 L425.5 640.2 L425.9 643.2 L426.4 646.1 L426.8 649.1 L427.3 652.1 L427.7 655.0 L428.1 658.0 L428.6 661.0 L429.0 663.9 L429.5 666.9 L429.9 669.9 L430.4 672.8 L430.8 675.8 L431.2 678.8 L431.7 681.7 L432.1 684.7 L432.6 687.7 L433.0 690.6 L433.5 693.6 L433.9 696.6 L434.3 699.5 L434.8 702.5 L435.2 705.5 L435.7 708.4 L436.1 711.4 L436.6 714.4 L437.0 717.3 L437.5 720.3 L437.9 723.3 L438.4 726.2 L438.9 729.2 L439.4 732.2 L439.9 735.1 L440.4 738.1 L440.9 741.0 L441.4 744.0 L441.9 746.9 L442.5 749.9 L443.0 752.8 L443.5 755.8 L443.9 758.8 L444.4 761.7 L444.9 764.7 L445.4 767.6 L445.9 770.6 L446.4 773.6 L447.0 776.5 L447.5 779.5 L448.0 782.4 L448.5 785.4 L449.0 788.3 L449.6 791.3 L450.1 794.2 L450.6 797.2 L451.1 800.1 L451.6 803.1 L452.2 806.0 L452.8 809.0 L453.4 811.9 L454.1 814.8 L454.8 817.8 L455.5 820.7 L456.2 823.6 L457.0 826.5 L457.9 829.3 L458.8 832.2 L459.8 835.0 L460.8 837.8 L461.9 840.6 L463.0 843.4 L464.2 846.2 L465.5 848.9 L466.8 851.6 L468.1 854.3 L469.5 856.9 L470.9 859.6 L472.4 862.2 L473.9 864.8 L475.5 867.3 L477.0 869.9 L478.7 872.4 L480.3 874.9 L482.0 877.4 L483.7 879.8 L485.4 882.3 L487.1 884.8 L488.8 887.2 L490.5 889.7 L492.2 892.2 L493.9 894.7 L495.6 897.1 L497.3 899.6 L499.0 902.1 L500.7 904.6 L502.3 907.1 L504.0 909.6 L505.7 912.0 L507.5 914.5 L509.2 916.9 L511.0 919.3 L512.8 921.8 L514.5 924.2 L516.3 926.6 L518.1 929.0 L519.9 931.4 L521.8 933.7 L523.6 936.1 L525.5 938.4 L527.4 940.8 L529.2 943.1 L531.1 945.5 L533.0 947.8 L534.8 950.2 L536.7 952.5 L538.6 954.9 L540.4 957.2 L542.3 959.6 L544.3 961.8 L546.2 964.1 L548.2 966.3 L550.2 968.6 L552.3 970.8 L554.3 973.0 L556.3 975.2 L558.3 977.4 L560.3 979.7 L562.3 981.9 L564.4 984.1 L566.4 986.3 L568.5 988.5 L570.5 990.7 L572.6 992.8 L574.7 994.9 L576.9 997.0 L579.0 999.2 L581.1 1001.2 L583.3 1003.3 L585.5 1005.3 L587.7 1007.4 L590.0 1009.4 L592.2 1011.4 L594.4 1013.4 L596.7 1015.4 L598.9 1017.4 L601.1 1019.4 L603.3 1021.4 L605.6 1023.4 L607.7 1025.5 L609.9 1027.6 L612.0 1029.7 L614.2 1031.8 L616.3 1033.9 L618.4 1036.0 L620.5 1038.1 L622.7 1040.3 L624.8 1042.4 L626.9 1044.5 L629.1 1046.6 L631.2 1048.7 L633.4 1050.7 L635.7 1052.6 L638.1 1054.4 L640.6 1056.1 L643.1 1057.7 L645.6 1059.2 L648.3 1060.5 L651.1 1061.5 L653.9 1062.2 L656.8 1062.8 L659.7 1063.0 L662.7 1063.0 L665.6 1062.6 L668.5 1062.1 L671.4 1061.4 L674.3 1060.5 L677.1 1059.6 L679.9 1058.5 L682.7 1057.3 L685.4 1056.1 L688.1 1054.8 L690.8 1053.4 L693.4 1052.0 L696.0 1050.5 L698.4 1048.8 L700.8 1047.1 L703.2 1045.2 L705.4 1043.2 L707.6 1041.2 L709.8 1039.1 L711.9 1037.0 L713.9 1034.8 L715.9 1032.5 L717.9 1030.3 L719.8 1028.0 L721.7 1025.6 L723.5 1023.3 L725.3 1020.9 L727.0 1018.4 L728.6 1015.9 L730.2 1013.3 L731.8 1010.8 L733.4 1008.3 L735.0 1005.7 L736.6 1003.2 L738.1 1000.6 L739.7 998.0 L741.2 995.4 L742.7 992.9 L744.2 990.3 L745.8 987.7 L747.3 985.1 L748.8 982.5 L750.2 979.9 L751.6 977.2 L752.9 974.5 L754.1 971.8 L755.3 969.0 L756.6 966.3 L757.8 963.6 L759.0 960.8 L760.2 958.1 L761.4 955.3 L762.5 952.5 L763.6 949.8 L764.8 947.0 L765.9 944.2 L767.0 941.4 L768.1 938.6 L769.2 935.8 L770.3 933.0 L771.4 930.2 L772.4 927.4 L773.5 924.6 L774.5 921.8 L775.5 919.0 L776.4 916.1 L777.4 913.3 L778.4 910.5 L779.4 907.6 L780.4 904.8 L781.5 902.0 L782.5 899.2 L783.6 896.4 L784.6 893.6 L785.7 890.8 L786.7 887.9 L787.8 885.1 L788.9 882.3 L789.9 879.5 L790.9 876.7 L791.9 873.9 L792.9 871.0 L793.8 868.2 L794.7 865.3 L795.6 862.4 L796.4 859.6 L797.3 856.7 L798.2 853.8 L799.1 851.0 L800.0 848.1 L800.9 845.3 L801.9 842.4 L802.9 839.6 L803.9 836.8 L804.8 833.9 L805.8 831.1 L806.8 828.3 L807.9 825.4 L808.9 822.6 L809.9 819.8 L811.0 817.0 L812.1 814.2 L813.2 811.4 L814.3 808.6 L815.4 805.8 L816.5 803.0 L817.6 800.3 L818.8 797.5 L819.9 794.7 L821.1 792.0 L822.3 789.2 L823.5 786.5 L824.8 783.8 L826.0 781.0 L827.3 778.3 L828.7 775.7 L830.1 773.0 L831.5 770.4 L832.9 767.7 L834.4 765.1 L835.9 762.5 L837.4 759.9 L839.1 757.4 L840.7 755.0 L842.5 752.5 L844.2 750.1 L846.0 747.7 L848.0 745.5 L850.1 743.4 L852.3 741.4 L854.6 739.5 L857.0 737.7 L859.5 736.1 L862.1 734.8 L864.8 733.6 L867.6 732.6 L870.5 731.8 L873.4 731.1 L876.2 730.9 L879.1 731.0 L881.9 731.6 L884.7 732.6 L887.4 733.8 L890.0 735.3 L892.5 736.8 L895.0 738.5 L897.3 740.3 L899.5 742.3 L901.6 744.4 L903.7 746.6 L905.6 748.8 L907.5 751.2 L909.3 753.6 L910.9 756.1 L912.4 758.6 L913.9 761.2 L915.3 763.9 L916.7 766.5 L918.1 769.2 L919.4 771.9 L920.7 774.6 L922.0 777.3 L923.3 780.0 L924.5 782.7 L925.8 785.5 L927.0 788.2 L928.3 790.9 L929.6 793.6 L930.8 796.4 L932.1 799.1 L933.3 801.8 L934.6 804.5 L935.8 807.3 L936.9 810.0 L938.1 812.8 L939.2 815.6 L940.3 818.4 L941.5 821.2 L942.6 823.9 L943.7 826.7 L944.8 829.5 L945.9 832.3 L946.9 835.1 L948.0 837.9 L949.0 840.8 L950.1 843.6 L951.1 846.4 L952.2 849.2 L953.2 852.0 L954.3 854.8 L955.3 857.6 L956.4 860.4 L957.4 863.2 L958.5 866.0 L959.6 868.8 L960.6 871.6 L961.7 874.4 L962.8 877.3 L963.8 880.1 L964.9 882.9 L966.0 885.7 L967.1 888.4 L968.2 891.2 L969.2 894.0 L970.3 896.8 L971.4 899.6 L972.5 902.4 L973.6 905.2 L974.7 908.0 L975.7 910.8 L976.8 913.6 L977.9 916.4 L979.0 919.2 L980.1 922.0 L981.2 924.8 L982.2 927.6 L983.3 930.4 L984.2 933.3 L985.2 936.1 L986.2 938.9 L987.1 941.8 L988.1 944.6 L989.0 947.5 L989.9 950.3 L990.9 953.2 L991.7 956.1 L992.6 958.9 L993.4 961.8 L994.2 964.7 L994.9 967.6 L995.7 970.5 L996.5 973.4 L997.2 976.3 L998.0 979.2 L998.8 982.1 L999.6 985.0 L1000.4 987.9 L1001.2 990.8 L1002.1 993.7 L1002.9 996.5 L1003.8 999.4 L1004.7 1002.3 L1005.5 1005.2 L1006.4 1008.0 L1007.2 1010.9 L1008.1 1013.8 L1009.0 1016.6 L1009.9 1019.5 L1010.8 1022.4 L1011.8 1025.2 L1012.8 1028.0 L1013.8 1030.9 L1014.7 1033.7 L1015.7 1036.5 L1016.7 1039.4 L1017.7 1042.2 L1018.7 1045.0 L1019.7 1047.9 L1020.7 1050.7 L1021.7 1053.5 L1022.8 1056.3 L1023.9 1059.1 L1025.0 1061.9 L1026.1 1064.7 L1027.2 1067.5 L1028.3 1070.2 L1029.4 1073.0 L1030.5 1075.8 L1031.7 1078.6 L1032.8 1081.4 L1033.9 1084.2 L1035.0 1087.0 L1036.1 1089.7 L1037.2 1092.5 L1038.3 1095.3 L1039.5 1098.1 L1040.6 1100.9 L1041.7 1103.7 L1042.8 1106.5 L1043.9 1109.2 L1045.0 1112.0 L1046.1 1114.8 L1047.2 1117.6 L1048.3 1120.4 L1049.4 1123.2 L1050.5 1126.0 L1051.5 1128.8 L1052.5 1131.6 L1053.6 1134.5 L1054.6 1137.3 L1055.6 1140.1 L1056.7 1142.9 L1057.7 1145.7 L1058.7 1148.5 L1059.8 1151.3 L1060.8 1154.2 L1061.9 1157.0 L1063.0 1159.8 L1064.0 1162.6 L1065.1 1165.4 L1066.2 1168.2 L1067.2 1171.0 L1068.3 1173.8 L1069.5 1176.5 L1070.6 1179.3 L1071.8 1182.1 L1073.0 1184.8 L1074.2 1187.6 L1075.4 1190.3 L1076.6 1193.1 L1077.8 1195.8 L1079.0 1198.6 L1080.3 1201.3 L1081.5 1204.0 L1082.7 1206.8 L1084.0 1209.5 L1085.4 1212.1 L1086.8 1214.7 L1088.3 1217.4 L1089.8 1219.9 L1091.3 1222.5 L1092.8 1225.1 L1094.4 1227.7 L1095.9 1230.3 L1097.5 1232.8 L1099.2 1235.2 L1101.1 1237.6 L1103.1 1239.8 L1105.1 1242.0 L1107.2 1244.1 L1109.4 1246.2 L1111.5 1248.3 L1113.7 1250.3 L1116.1 1252.1 L1118.5 1253.7 L1121.1 1255.1 L1123.9 1256.3 L1126.6 1257.4 L1129.4 1258.6 L1132.2 1259.7 L1135.0 1260.7 L1137.8 1261.6 L1140.7 1262.4 L1143.6 1263.0 L1146.5 1263.4 L1149.5 1263.5 L1152.5 1263.4 L1155.4 1263.1 L1158.4 1262.8 L1161.4 1262.4 L1164.3 1261.9 L1167.2 1261.2 L1170.1 1260.5 L1173.0 1259.6 L1175.8 1258.7 L1178.7 1257.7 L1181.5 1256.8 L1184.4 1255.8 L1187.2 1254.9 L1190.1 1253.9 L1192.9 1253.0 L1195.8 1252.0 L1198.6 1251.1 L1201.4 1250.1 L1204.3 1249.2 L1207.2 1248.3 L1210.0 1247.5 L1212.9 1246.8 L1215.9 1246.1 L1218.8 1245.5 L1221.8 1245.0 L1224.7 1244.4 L1227.6 1243.8 L1230.6 1243.3 L1233.6 1242.8 L1236.5 1242.4 L1239.5 1242.0 L1242.5 1241.6 L1245.4 1241.2 L1248.4 1240.9 L1251.4 1240.8 L1254.3 1240.9 L1257.3 1241.2 L1260.2 1241.7 L1263.2 1242.2 L1266.1 1242.9 L1268.9 1243.7 L1271.7 1244.7 L1274.4 1245.9 L1277.0 1247.4 L1279.5 1249.0 L1282.0 1250.7 L1284.4 1252.4 L1286.7 1254.3 L1288.9 1256.3 L1291.1 1258.4 L1293.2 1260.5 L1295.3 1262.6 L1297.4 1264.7 L1299.6 1266.8 L1301.7 1269.0 L1303.8 1271.1 L1305.9 1273.2 L1308.1 1275.3 L1310.2 1277.4 L1312.4 1279.5 L1314.6 1281.5 L1316.9 1283.4 L1319.2 1285.3 L1321.6 1287.1 L1324.0 1288.9 L1326.4 1290.7 L1328.8 1292.5 L1331.2 1294.3 L1333.6 1296.1 L1336.0 1297.9 L1338.4 1299.7 L1340.9 1301.4 L1343.3 1303.2 L1345.7 1305.0 L1348.1 1306.8 L1350.5 1308.6 L1352.9 1310.4 L1355.3 1312.2 L1357.7 1314.0 L1360.0 1315.9 L1362.4 1317.8 L1364.7 1319.6 L1367.1 1321.5 L1369.4 1323.4 L1371.7 1325.2 L1374.1 1327.1 L1376.4 1329.0 L1378.8 1330.9 L1381.1 1332.7 L1383.4 1334.6 L1385.8 1336.5 L1388.1 1338.4 L1390.5 1340.3 L1392.8 1342.1 L1395.2 1344.0 L1397.5 1345.8 L1399.9 1347.6 L1402.3 1349.4 L1404.7 1351.2 L1407.2 1353.0 L1409.6 1354.8 L1412.0 1356.5 L1414.4 1358.3 L1416.8 1360.1 L1419.2 1361.9 L1421.6 1363.7 L1424.0 1365.6 L1426.4 1367.4 L1428.7 1369.2 L1431.1 1371.1 L1433.5 1372.9 L1435.8 1374.7 L1438.2 1376.6 L1440.6 1378.4 L1442.9 1380.3 L1445.3 1382.1 L1447.7 1383.9 L1450.1 1385.7 L1452.6 1387.4 L1455.0 1389.1 L1457.5 1390.8 L1460.0 1392.5 L1462.5 1394.2 L1465.0 1395.8 L1467.5 1397.5 L1470.0 1399.2 L1472.5 1400.8 L1475.0 1402.4 L1477.6 1403.9 L1480.2 1405.5 L1482.7 1407.0 L1485.3 1408.6 L1487.9 1410.1 L1490.5 1411.6 L1493.0 1413.2 L1495.6 1414.7 L1498.2 1416.3 L1500.8 1417.8 L1503.3 1419.4 L1505.9 1420.9 L1508.5 1422.4 L1511.1 1424.0 L1513.7 1425.5 L1516.3 1427.0 L1518.9 1428.4 L1521.5 1429.8 L1524.2 1431.3 L1526.8 1432.7 L1529.5 1434.1 L1532.1 1435.5 L1534.8 1436.9 L1537.5 1438.2 L1540.2 1439.5 L1542.9 1440.8 L1545.6 1442.1 L1548.3 1443.4 L1551.0 1444.6 L1553.7 1445.9 L1556.5 1447.2 L1559.2 1448.4 L1561.9 1449.7 L1564.6 1450.9 L1567.4 1452.1 L1570.1 1453.4 L1572.8 1454.6 L1575.6 1455.8 L1578.3 1457.1 L1581.0 1458.3 L1583.8 1459.6 L1586.5 1460.8 L1589.2 1462.0 L1592.0 1463.3 L1594.7 1464.5 L1597.4 1465.8 L1600.1 1467.1 L1602.9 1468.3 L1605.6 1469.6 L1608.3 1470.8 L1611.1 1472.0 L1613.8 1473.2 L1616.6 1474.3 L1619.4 1475.4 L1622.2 1476.6 L1625.0 1477.7 L1627.7 1478.8 L1630.5 1479.8 L1633.4 1480.8 L1636.2 1481.8 L1639.1 1482.6 L1642.0 1483.5 L1644.8 1484.4 L1647.7 1485.2 L1650.6 1486.1 L1653.5 1486.9 L1656.4 1487.7 L1659.2 1488.5 L1662.1 1489.3 L1665.1 1490.0 L1668.0 1490.8 L1670.9 1491.6 L1673.8 1492.3 L1676.7 1493.1 L1679.6 1493.9 L1682.4 1494.6 L1685.3 1495.4 L1688.2 1496.2 L1691.1 1496.9 L1694.1 1497.6 L1697.0 1498.2 L1700.0 1498.6 L1702.9 1498.9 L1705.9 1499.1 L1708.9 1499.3 L1711.9 1499.5 L1714.9 1499.7 L1717.9 1499.8 L1720.9 1499.8 L1723.9 1499.8 L1726.9 1499.7 L1729.9 1499.5 L1732.9 1499.3 L1735.8 1499.0 L1738.8 1498.5 L1741.7 1498.0 L1744.6 1497.4 L1747.6 1496.7 L1750.5 1496.0 L1753.4 1495.4 L1756.4 1494.8 L1759.3 1494.2 L1762.2 1493.6 L1765.2 1493.0 L1768.1 1492.4 L1771.1 1491.9 L1774.0 1491.3 L1777.0 1490.9 L1780.0 1490.6 L1782.9 1490.3 L1785.9 1490.1 L1788.9 1489.9 L1791.9 1489.7 L1794.9 1489.5 L1797.9 1489.4 L1800.9 1489.3 L1803.9 1489.2 L1806.9 1489.2 L1809.9 1489.2 L1812.9 1489.2 L1815.9 1489.2 L1818.9 1489.2 L1821.9 1489.3 L1824.9 1489.4 L1827.9 1489.5 L1830.9 1489.6 L1833.9 1489.7 L1836.9 1489.8 L1839.9 1490.0 L1842.9 1490.2 L1845.9 1490.5 L1848.8 1490.8 L1851.8 1491.2 L1854.8 1491.6 L1857.8 1492.0 L1860.7 1492.4 L1863.7 1492.8 L1866.7 1493.1 L1869.7 1493.5 L1872.6 1493.9 L1875.6 1494.3 L1878.6 1494.7 L1881.6 1495.1 L1884.5 1495.5 L1887.5 1495.9 L1890.5 1496.4 L1893.4 1496.9 L1896.4 1497.5 L1899.3 1498.1 L1902.2 1498.8 L1905.1 1499.5 L1908.0 1500.2 L1911.0 1500.9 L1913.9 1501.6 L1916.8 1502.3 L1919.7 1503.1 L1922.6 1503.8 L1925.5 1504.6 L1928.4 1505.4 L1931.3 1506.1 L1934.2 1506.9 L1937.1 1507.6 L1940.0 1508.3 L1942.9 1509.0 L1945.9 1509.7 L1948.8 1510.4 L1951.7 1511.1 L1954.6 1511.8 L1957.5 1512.5 L1960.4 1513.3 L1963.3 1514.2 L1966.2 1515.0 L1969.0 1515.9 L1971.9 1516.9 L1974.7 1517.9 L1977.5 1519.0 L1980.2 1520.2 L1982.8 1521.6 L1985.5 1523.0 L1988.1 1524.4 L1990.7 1525.9 L1993.4 1527.3 L1995.9 1528.8 L1998.5 1530.4 L2001.1 1532.0 L2003.6 1533.5 L2006.2 1535.1 L2008.7 1536.7 L2011.3 1538.3 L2013.8 1539.8 L2016.4 1541.4 L2018.9 1543.0 L2021.5 1544.6 L2024.1 1546.1 L2026.6 1547.6 L2029.3 1549.1 L2031.9 1550.4 L2034.7 1551.6 L2037.5 1552.7 L2040.3 1553.7 L2043.1 1554.8 L2045.9 1555.8 L2048.7 1556.7 L2051.6 1557.6 L2054.5 1558.4 L2057.4 1559.1 L2060.3 1559.7 L2063.3 1560.3 L2066.2 1560.9 L2069.2 1561.4 L2072.1 1562.0 L2075.1 1562.6 L2078.0 1563.1 L2081.0 1563.6 L2083.9 1564.1 L2086.9 1564.6 L2089.8 1565.1 L2092.8 1565.5 L2095.8 1565.9 L2098.8 1566.2 L2101.7 1566.5 L2104.7 1566.7 L2107.7 1566.9 L2110.7 1567.1 L2113.7 1567.3 L2116.7 1567.5 L2119.7 1567.6 L2122.7 1567.8 L2125.7 1568.0 L2128.7 1568.2 L2131.7 1568.3 L2134.7 1568.5 L2137.7 1568.7 L2140.7 1568.8 L2143.7 1569.0 L2146.7 1569.1 L2149.7 1569.3 L2152.7 1569.5 L2155.7 1569.6 L2158.7 1569.8 L2161.6 1569.9 L2164.6 1570.1 L2167.6 1570.2 L2170.6 1570.4 L2173.6 1570.5 L2176.6 1570.7 L2179.6 1570.8 L2182.6 1571.0 L2185.6 1571.1 L2188.6 1571.3 L2191.6 1571.4 L2194.6 1571.5 L2197.6 1571.6 L2200.6 1571.7 L2203.6 1571.8 L2206.6 1571.9 L2209.6 1572.0 L2212.6 1572.1 L2215.6 1572.1 L2218.6 1572.2 L2221.6 1572.3 L2224.6 1572.3 L2227.6 1572.4 L2230.6 1572.4 L2233.6 1572.5 L2236.6 1572.5 L2239.6 1572.5 L2242.6 1572.6 L2245.6 1572.6 L2248.6 1572.6 L2251.6 1572.7 L2254.6 1572.7 L2257.6 1572.7 L2260.6 1572.8 L2263.6 1572.8 L2266.6 1572.9 L2269.6 1572.9 L2272.6 1573.0 L2275.6 1573.1 L2278.6 1573.1 L2281.6 1573.2 L2284.6 1573.4 L2287.6 1573.7 L2290.5 1574.0 L2293.5 1574.3 L2296.5 1574.7 L2299.5 1575.1 L2302.4 1575.4 L2305.4 1575.8 L2308.4 1576.2 L2311.4 1576.5 L2314.4 1576.9 L2317.3 1577.2 L2320.3 1577.5 L2323.3 1577.8 L2326.3 1578.1 L2329.3 1578.4 L2332.3 1578.7 L2335.3 1579.0 L2338.2 1579.3 L2341.2 1579.6 L2344.2 1579.8 L2347.2 1580.1 L2350.2 1580.3 L2353.2 1580.5 L2356.2 1580.7 L2359.2 1580.9 L2362.2 1581.1 L2365.2 1581.4 L2368.2 1581.6 L2371.1 1581.8 L2374.1 1581.9 L2377.1 1582.1 L2380.1 1582.3 L2383.1 1582.4 L2386.1 1582.6 L2389.1 1582.7 L2392.1 1582.9 L2395.1 1583.1 L2398.1 1583.2 L2401.1 1583.4 L2404.1 1583.6 L2407.1 1583.8 L2410.1 1584.0 L2413.1 1584.2 L2416.1 1584.5 L2419.0 1584.7 L2421.9 1584.9 L2424.7 1585.1 L2427.2 1585.3 L2428.9 1585.4" fill="none" stroke="#00ff00" stroke-width="11.5" stroke-linecap="round" stroke-linejoin="round"/>
<path d="M302.3 984.9 L304.1 987.3 L305.9 989.7 L307.7 992.1 L309.4 994.5 L311.2 997.0 L313.0 999.4 L314.8 1001.8 L316.6 1004.2 L318.4 1006.6 L320.1 1009.0 L321.9 1011.4 L323.7 1013.8 L325.5 1016.3 L327.2 1018.7 L329.0 1021.1 L330.7 1023.6 L332.5 1026.0 L334.2 1028.5 L336.0 1030.9 L337.7 1033.3 L339.5 1035.8 L341.2 1038.2 L343.0 1040.7 L344.7 1043.1 L346.4 1045.5 L348.2 1048.0 L349.9 1050.4 L351.7 1052.9 L353.4 1055.3 L355.2 1057.7 L356.9 1060.2 L358.6 1062.6 L360.4 1065.1 L362.1 1067.5 L363.8 1070.0 L365.5 1072.5 L367.2 1074.9 L368.9 1077.4 L370.6 1079.9 L372.3 1082.4 L374.0 1084.8 L375.7 1087.3 L377.4 1089.8 L379.1 1092.2 L380.8 1094.7 L382.5 1097.2 L384.2 1099.6 L385.9 1102.1 L387.6 1104.6 L389.3 1107.1 L391.0 1109.5 L392.7 1112.0 L394.5 1114.4 L396.2 1116.9 L398.0 1119.3 L399.9 1121.7 L401.7 1124.0 L403.5 1126.4 L405.3 1128.8 L407.2 1131.2 L409.0 1133.5 L410.9 1135.9 L412.7 1138.3 L414.6 1140.6 L416.4 1143.0 L418.3 1145.3 L420.2 1147.7 L422.0 1150.0 L423.9 1152.4 L425.7 1154.7 L427.5 1157.2 L429.2 1159.6 L430.8 1162.1 L432.4 1164.7 L434.0 1167.2 L435.6 1169.7 L437.2 1172.3 L438.7 1174.9 L440.1 1177.5 L441.4 1180.2 L442.7 1182.9 L444.0 1185.6 L445.2 1188.4 L446.5 1191.1 L447.7 1193.8 L449.0 1196.5 L450.3 1199.2 L451.7 1201.9 L453.0 1204.6 L454.3 1207.3 L455.7 1209.9 L457.1 1212.6 L458.6 1215.2 L460.2 1217.7 L461.8 1220.2 L463.6 1222.7 L465.3 1225.1 L467.1 1227.5 L468.9 1229.9 L470.7 1232.3 L472.7 1234.5 L474.8 1236.6 L476.9 1238.7 L479.2 1240.6 L481.5 1242.5 L483.8 1244.4 L486.2 1246.3 L488.5 1248.2 L490.8 1250.1 L493.2 1252.0 L495.5 1253.8 L497.9 1255.7 L500.3 1257.5 L502.7 1259.3 L505.0 1261.1 L507.4 1263.0 L509.8 1264.8 L512.2 1266.7 L514.5 1268.5 L516.8 1270.4 L519.1 1272.4 L521.4 1274.3 L523.7 1276.3 L525.9 1278.2 L528.2 1280.2 L530.5 1282.1 L532.9 1283.9 L535.4 1285.6 L537.9 1287.1 L540.5 1288.6 L543.1 1290.1 L545.8 1291.5 L548.4 1293.0 L551.0 1294.4 L553.6 1295.9 L556.3 1297.3 L559.0 1298.6 L561.6 1300.0 L564.4 1301.2 L567.1 1302.4 L569.9 1303.6 L572.6 1304.8 L575.4 1306.0 L578.1 1307.2 L580.8 1308.5 L583.5 1309.9 L586.2 1311.2 L588.8 1312.6 L591.5 1314.0 L594.1 1315.5 L596.7 1317.0 L599.2 1318.6 L601.7 1320.2 L604.3 1321.8 L606.8 1323.4 L609.4 1324.9 L612.0 1326.5 L614.6 1328.0 L617.2 1329.5 L619.8 1330.9 L622.5 1332.2 L625.2 1333.3 L628.1 1334.2 L630.9 1335.1 L633.8 1335.8 L636.7 1336.3 L639.6 1336.6 L642.6 1336.5 L645.5 1336.2 L648.4 1335.7 L651.3 1334.9 L654.0 1333.9 L656.8 1332.7 L659.4 1331.4 L662.0 1329.9 L664.6 1328.5 L667.2 1326.9 L669.6 1325.2 L672.0 1323.4 L674.4 1321.5 L676.7 1319.6 L679.0 1317.7 L681.2 1315.7 L683.5 1313.7 L685.7 1311.7 L687.8 1309.6 L689.9 1307.4 L692.0 1305.3 L694.1 1303.1 L696.1 1300.9 L698.2 1298.8 L700.2 1296.6 L702.2 1294.3 L704.2 1292.1 L706.2 1289.8 L708.1 1287.5 L710.1 1285.3 L712.0 1283.0 L714.0 1280.7 L715.9 1278.4 L717.8 1276.0 L719.6 1273.7 L721.5 1271.3 L723.3 1269.0 L725.2 1266.6 L727.0 1264.2 L728.8 1261.9 L730.6 1259.5 L732.4 1257.1 L734.2 1254.6 L735.9 1252.1 L737.6 1249.7 L739.2 1247.2 L740.9 1244.7 L742.5 1242.2 L744.2 1239.7 L745.8 1237.1 L747.3 1234.5 L748.8 1231.9 L750.2 1229.3 L751.6 1226.6 L753.0 1224.0 L754.4 1221.3 L755.8 1218.7 L757.2 1216.0 L758.5 1213.3 L759.8 1210.7 L761.1 1207.9 L762.4 1205.2 L763.7 1202.5 L765.0 1199.8 L766.3 1197.1 L767.5 1194.4 L768.8 1191.7 L770.1 1188.9 L771.4 1186.2 L772.6 1183.5 L773.9 1180.8 L775.2 1178.1 L776.5 1175.4 L777.7 1172.7 L778.9 1169.9 L780.1 1167.1 L781.2 1164.4 L782.2 1161.5 L783.2 1158.7 L784.2 1155.9 L785.1 1153.0 L786.1 1150.2 L787.1 1147.4 L788.1 1144.5 L789.0 1141.7 L790.0 1138.8 L791.0 1136.0 L792.0 1133.2 L793.0 1130.4 L794.1 1127.6 L795.2 1124.8 L796.3 1122.0 L797.4 1119.2 L798.5 1116.4 L799.6 1113.6 L800.8 1110.8 L801.9 1108.1 L803.1 1105.3 L804.2 1102.5 L805.4 1099.8 L806.6 1097.0 L807.8 1094.3 L809.0 1091.5 L810.2 1088.8 L811.5 1086.1 L812.8 1083.4 L814.1 1080.7 L815.4 1078.0 L816.8 1075.3 L818.1 1072.6 L819.5 1070.0 L821.0 1067.3 L822.5 1064.7 L824.0 1062.2 L825.5 1059.6 L827.1 1057.0 L828.7 1054.5 L830.3 1051.9 L831.9 1049.4 L833.5 1046.9 L835.2 1044.4 L836.9 1041.9 L838.6 1039.5 L840.4 1037.1 L842.3 1034.8 L844.2 1032.5 L846.2 1030.3 L848.3 1028.1 L850.3 1025.9 L852.5 1023.8 L854.7 1021.8 L856.9 1019.8 L859.3 1017.9 L861.6 1016.1 L864.1 1014.5 L866.7 1013.1 L869.4 1011.9 L872.2 1010.9 L875.0 1010.0 L877.9 1009.3 L880.8 1008.8 L883.7 1008.7 L886.6 1008.8 L889.5 1009.3 L892.3 1010.1 L895.0 1011.3 L897.6 1012.7 L900.1 1014.3 L902.5 1016.0 L904.9 1017.8 L907.2 1019.7 L909.5 1021.7 L911.7 1023.7 L913.9 1025.8 L916.0 1027.8 L918.1 1030.0 L920.2 1032.2 L922.2 1034.4 L924.1 1036.7 L926.1 1039.0 L928.0 1041.2 L930.0 1043.5 L932.0 1045.8 L933.9 1048.0 L935.9 1050.3 L937.8 1052.6 L939.8 1054.8 L941.8 1057.1 L943.8 1059.3 L945.8 1061.6 L947.8 1063.8 L949.9 1066.0 L951.9 1068.2 L953.9 1070.4 L955.9 1072.6 L957.9 1074.9 L959.8 1077.2 L961.7 1079.5 L963.6 1081.9 L965.4 1084.2 L967.3 1086.6 L969.1 1089.0 L970.9 1091.3 L972.8 1093.7 L974.6 1096.1 L976.4 1098.5 L978.2 1100.9 L980.1 1103.2 L981.9 1105.6 L983.6 1108.1 L985.4 1110.5 L987.1 1112.9 L988.9 1115.4 L990.6 1117.8 L992.3 1120.3 L994.1 1122.7 L995.9 1125.1 L997.7 1127.4 L999.8 1129.6 L1001.9 1131.7 L1004.1 1133.8 L1006.3 1135.8 L1008.5 1137.8 L1010.7 1139.8 L1013.0 1141.8 L1015.2 1143.9 L1017.3 1146.0 L1019.3 1148.1 L1021.3 1150.4 L1023.3 1152.6 L1025.2 1154.9 L1027.1 1157.2 L1029.0 1159.6 L1030.8 1162.0 L1032.4 1164.5 L1034.0 1167.0 L1035.6 1169.6 L1037.1 1172.1 L1038.7 1174.7 L1040.2 1177.3 L1041.8 1179.9 L1043.3 1182.4 L1044.8 1185.1 L1046.2 1187.7 L1047.7 1190.3 L1049.1 1192.9 L1050.5 1195.6 L1052.0 1198.2 L1053.4 1200.8 L1054.8 1203.5 L1056.3 1206.1 L1057.7 1208.7 L1059.1 1211.4 L1060.6 1214.0 L1062.0 1216.7 L1063.4 1219.3 L1064.9 1221.9 L1066.3 1224.5 L1067.8 1227.2 L1069.3 1229.8 L1070.8 1232.3 L1072.4 1234.9 L1074.0 1237.4 L1075.6 1239.9 L1077.2 1242.5 L1078.9 1245.0 L1080.5 1247.5 L1082.2 1250.0 L1083.9 1252.4 L1085.7 1254.8 L1087.6 1257.1 L1089.6 1259.4 L1091.6 1261.6 L1093.6 1263.8 L1095.6 1266.1 L1097.6 1268.3 L1099.6 1270.5 L1101.6 1272.8 L1103.6 1275.0 L1105.6 1277.2 L1107.7 1279.4 L1109.7 1281.6 L1111.7 1283.9 L1113.7 1286.1 L1115.8 1288.3 L1117.8 1290.5 L1119.8 1292.7 L1121.9 1294.9 L1123.9 1297.1 L1126.0 1299.3 L1128.1 1301.4 L1130.3 1303.3 L1132.7 1305.1 L1135.2 1306.7 L1137.7 1308.3 L1140.3 1309.8 L1142.9 1311.3 L1145.5 1312.8 L1148.2 1314.2 L1150.8 1315.6 L1153.5 1317.0 L1156.2 1318.3 L1158.9 1319.7 L1161.5 1321.0 L1164.3 1322.3 L1167.0 1323.5 L1169.7 1324.7 L1172.5 1325.9 L1175.3 1327.0 L1178.1 1328.1 L1180.8 1329.2 L1183.6 1330.3 L1186.4 1331.5 L1189.2 1332.6 L1192.0 1333.8 L1194.7 1334.9 L1197.5 1336.1 L1200.2 1337.3 L1203.0 1338.5 L1205.7 1339.7 L1208.4 1341.1 L1211.0 1342.5 L1213.6 1344.0 L1216.2 1345.5 L1218.8 1347.0 L1221.4 1348.5 L1224.0 1350.1 L1226.5 1351.6 L1229.1 1353.2 L1231.6 1354.8 L1234.2 1356.4 L1236.7 1357.9 L1239.3 1359.6 L1241.8 1361.2 L1244.2 1362.9 L1246.6 1364.7 L1249.0 1366.5 L1251.3 1368.4 L1253.6 1370.3 L1255.8 1372.3 L1257.9 1374.5 L1260.0 1376.6 L1262.0 1378.9 L1263.9 1381.2 L1265.7 1383.5 L1267.5 1386.0 L1269.2 1388.4 L1270.9 1390.9 L1272.5 1393.4 L1274.1 1395.9 L1275.7 1398.5 L1277.3 1401.0 L1278.8 1403.6 L1280.4 1406.2 L1282.0 1408.7 L1283.6 1411.3 L1285.2 1413.8 L1286.9 1416.3 L1288.6 1418.7 L1290.3 1421.2 L1292.0 1423.7 L1293.7 1426.1 L1295.6 1428.5 L1297.5 1430.8 L1299.5 1433.0 L1301.6 1435.1 L1303.8 1437.2 L1306.0 1439.2 L1308.2 1441.1 L1310.6 1442.9 L1313.0 1444.7 L1315.5 1446.4 L1318.0 1448.1 L1320.5 1449.8 L1322.9 1451.5 L1325.4 1453.2 L1327.9 1454.9 L1330.3 1456.6 L1332.7 1458.4 L1335.2 1460.2 L1337.5 1462.0 L1339.9 1463.8 L1342.3 1465.7 L1344.6 1467.6 L1346.9 1469.4 L1349.3 1471.3 L1351.6 1473.2 L1354.0 1475.1 L1356.3 1476.9 L1358.7 1478.8 L1361.1 1480.5 L1363.6 1482.2 L1366.1 1483.7 L1368.8 1485.1 L1371.5 1486.4 L1374.2 1487.5 L1377.0 1488.6 L1379.9 1489.4 L1382.8 1490.1 L1385.7 1490.7 L1388.6 1491.2 L1391.6 1491.7 L1394.6 1492.2 L1397.5 1492.8 L1400.5 1493.3 L1403.4 1493.9 L1406.3 1494.6 L1409.2 1495.3 L1412.2 1496.0 L1415.1 1496.6 L1418.0 1497.3 L1420.9 1498.0 L1423.8 1498.7 L1426.8 1499.4 L1429.7 1500.0 L1432.6 1500.7 L1435.5 1501.4 L1438.5 1502.1 L1441.4 1502.8 L1444.3 1503.4 L1447.2 1504.1 L1450.1 1504.8 L1453.1 1505.5 L1456.0 1506.2 L1458.9 1506.9 L1461.8 1507.6 L1464.7 1508.2 L1467.7 1508.9 L1470.6 1509.6 L1473.5 1510.3 L1476.4 1510.9 L1479.4 1511.6 L1482.3 1512.3 L1485.2 1512.9 L1488.1 1513.6 L1491.1 1514.2 L1494.0 1514.8 L1497.0 1515.4 L1499.9 1516.0 L1502.8 1516.6 L1505.8 1517.1 L1508.8 1517.6 L1511.7 1518.0 L1514.7 1518.3 L1517.7 1518.6 L1520.7 1518.9 L1523.7 1519.2 L1526.6 1519.5 L1529.6 1519.7 L1532.6 1520.0 L1535.6 1520.2 L1538.6 1520.4 L1541.6 1520.6 L1544.6 1520.8 L1547.6 1521.0 L1550.6 1521.3 L1553.6 1521.5 L1556.6 1521.7 L1559.5 1522.0 L1562.5 1522.3 L1565.5 1522.5 L1568.5 1522.8 L1571.5 1523.1 L1574.5 1523.3 L1577.5 1523.6 L1580.5 1523.9 L1583.4 1524.1 L1586.4 1524.4 L1589.4 1524.6 L1592.4 1524.9 L1595.4 1525.1 L1598.4 1525.3 L1601.4 1525.6 L1604.4 1525.8 L1607.4 1526.0 L1610.4 1526.2 L1613.4 1526.4 L1616.4 1526.6 L1619.3 1526.7 L1622.3 1526.8 L1625.3 1526.9 L1628.3 1526.9 L1631.3 1526.9 L1634.3 1526.9 L1637.3 1527.0 L1640.3 1527.0 L1643.3 1527.0 L1646.3 1527.0 L1649.3 1527.1 L1652.3 1527.2 L1655.3 1527.3 L1658.3 1527.5 L1661.3 1527.7 L1664.3 1528.0 L1667.3 1528.2 L1670.3 1528.5 L1673.3 1528.7 L1676.3 1529.0 L1679.2 1529.3 L1682.2 1529.6 L1685.2 1529.8 L1688.2 1529.9 L1691.2 1529.8 L1694.1 1529.6 L1697.1 1529.3 L1700.1 1528.8 L1703.0 1528.3 L1705.9 1527.6 L1708.9 1527.0 L1711.8 1526.2 L1714.7 1525.5 L1717.6 1524.7 L1720.5 1523.9 L1723.4 1523.2 L1726.3 1522.6 L1729.2 1522.0 L1732.2 1521.4 L1735.1 1520.9 L1738.1 1520.4 L1741.1 1520.0 L1744.0 1519.5 L1747.0 1519.2 L1750.0 1519.0 L1753.0 1518.9 L1756.0 1518.8 L1759.0 1518.8 L1762.0 1518.8 L1765.0 1518.9 L1768.0 1518.9 L1770.9 1519.1 L1773.9 1519.3 L1776.9 1519.6 L1779.9 1519.9 L1782.9 1520.2 L1785.9 1520.5 L1788.9 1520.7 L1791.9 1521.0 L1794.8 1521.3 L1797.8 1521.5 L1800.8 1521.7 L1803.8 1522.0 L1806.8 1522.2 L1809.8 1522.4 L1812.8 1522.7 L1815.8 1522.9 L1818.8 1523.2 L1821.7 1523.6 L1824.7 1524.0 L1827.7 1524.5 L1830.6 1525.0 L1833.6 1525.5 L1836.5 1525.9 L1839.5 1526.4 L1842.5 1527.0 L1845.4 1527.5 L1848.4 1528.0 L1851.3 1528.5 L1854.3 1529.0 L1857.2 1529.5 L1860.2 1530.1 L1863.1 1530.6 L1866.1 1531.1 L1869.0 1531.7 L1872.0 1532.3 L1874.9 1533.0 L1877.8 1533.8 L1880.7 1534.5 L1883.6 1535.3 L1886.5 1536.1 L1889.4 1536.9 L1892.2 1537.8 L1895.1 1538.8 L1897.9 1539.8 L1900.7 1540.9 L1903.5 1542.0 L1906.2 1543.1 L1909.0 1544.2 L1911.8 1545.3 L1914.6 1546.4 L1917.4 1547.4 L1920.2 1548.5 L1923.0 1549.5 L1925.9 1550.6 L1928.7 1551.6 L1931.5 1552.6 L1934.3 1553.6 L1937.2 1554.5 L1940.0 1555.5 L1942.9 1556.4 L1945.8 1557.2 L1948.6 1558.1 L1951.5 1559.0 L1954.4 1559.9 L1957.2 1560.8 L1960.0 1561.8 L1962.8 1562.9 L1965.6 1564.0 L1968.4 1565.1 L1971.1 1566.3 L1973.8 1567.7 L1976.5 1569.1 L1979.1 1570.6 L1981.7 1572.0 L1984.3 1573.5 L1986.9 1574.9 L1989.6 1576.1 L1992.4 1577.3 L1995.2 1578.3 L1998.0 1579.4 L2000.8 1580.4 L2003.7 1581.4 L2006.5 1582.3 L2009.4 1583.1 L2012.3 1583.7 L2015.3 1584.2 L2018.2 1584.6 L2021.2 1585.0 L2024.2 1585.4 L2027.1 1585.8 L2030.1 1586.1 L2033.1 1586.4 L2036.1 1586.7 L2039.1 1586.9 L2042.1 1587.1 L2045.1 1587.4 L2048.1 1587.6 L2051.0 1587.8 L2054.0 1588.0 L2057.0 1588.3 L2060.0 1588.5 L2063.0 1588.8 L2066.0 1589.1 L2069.0 1589.4 L2072.0 1589.7 L2074.9 1590.0 L2077.9 1590.3 L2080.9 1590.6 L2083.9 1590.8 L2086.9 1591.1 L2089.9 1591.4 L2092.9 1591.6 L2095.9 1591.9 L2098.9 1592.1 L2101.8 1592.3 L2104.8 1592.6 L2107.8 1592.8 L2110.8 1593.0 L2113.8 1593.3 L2116.8 1593.6 L2119.8 1594.0 L2122.7 1594.4 L2125.7 1594.8 L2128.7 1595.3 L2131.6 1595.7 L2134.6 1596.1 L2137.6 1596.5 L2140.5 1596.9 L2143.5 1597.2 L2146.5 1597.5 L2149.5 1597.7 L2152.5 1598.0 L2155.5 1598.2 L2158.5 1598.4 L2161.5 1598.6 L2164.5 1598.9 L2167.4 1599.1 L2170.4 1599.4 L2173.4 1599.7 L2176.4 1600.0 L2179.4 1600.3 L2182.4 1600.6 L2185.4 1600.9 L2188.3 1601.2 L2191.3 1601.5 L2194.3 1601.8 L2197.3 1602.1 L2200.3 1602.4 L2203.3 1602.8 L2206.2 1603.2 L2209.2 1603.5 L2212.2 1603.9 L2215.2 1604.3 L2218.1 1604.6 L2221.1 1605.0 L2224.1 1605.4 L2227.1 1605.7 L2230.1 1606.0 L2233.0 1606.3 L2236.0 1606.6 L2239.0 1606.9 L2242.0 1607.2 L2245.0 1607.5 L2248.0 1607.8 L2251.0 1608.1 L2253.9 1608.4 L2256.9 1608.7 L2259.9 1609.0 L2262.9 1609.3 L2265.9 1609.6 L2268.9 1609.9 L2271.9 1610.2 L2274.8 1610.5 L2277.8 1610.7 L2280.8 1611.0 L2283.8 1611.2 L2286.8 1611.4 L2289.8 1611.5 L2292.8 1611.6 L2295.8 1611.7 L2298.8 1611.8 L2301.8 1611.9 L2304.8 1612.0 L2307.8 1612.0 L2310.8 1612.1 L2313.8 1612.2 L2316.8 1612.2 L2319.8 1612.2 L2322.8 1612.2 L2325.8 1612.2 L2328.8 1612.2 L2331.8 1612.2 L2334.8 1612.2 L2337.8 1612.2 L2340.8 1612.2 L2343.8 1612.2 L2346.8 1612.2 L2349.8 1612.2 L2352.8 1612.2 L2355.8 1612.2 L2358.8 1612.2 L2361.8 1612.2 L2364.8 1612.2 L2367.8 1612.2 L2370.8 1612.2 L2373.8 1612.2 L2376.8 1612.2 L2379.8 1612.2 L2382.8 1612.2 L2385.8 1612.2 L2388.8 1612.2 L2391.8 1612.2 L2394.8 1612.2 L2397.8 1612.2 L2400.8 1612.2 L2403.8 1612.2 L2406.8 1612.2 L2409.8 1612.2 L2412.8 1612.2 L2415.8 1612.2 L2418.8 1612.2 L2421.7 1612.2 L2424.6 1612.2 L2427.3 1612.2 L2428.9 1612.2" fill="none" stroke="#00ffff" stroke-width="11.5" stroke-linecap="round" stroke-linejoin="round"/>
<rect x="1943.5" y="114" width="447.9" height="489.4" fill="#fff" stroke="#000" stroke-width="3.8"/>
<line x1="1988.3" y1="194.6" x2="2127.3" y2="194.6" stroke="#000000" stroke-width="11.5" stroke-linecap="round"/>
<text x="2163" y="217.8" class="lg" transform="translate(2163 0) scale(0.935 1) translate(-2163 0)">CoFC</text>
<line x1="1988.3" y1="277" x2="2127.3" y2="277" stroke="#ff0000" stroke-width="11.5" stroke-linecap="round"/>
<text x="2163" y="300.2" class="lg" transform="translate(2163 0) scale(0.935 1) translate(-2163 0)">CuFC</text>
<line x1="1988.3" y1="358.3" x2="2127.3" y2="358.3" stroke="#0000ff" stroke-width="11.5" stroke-linecap="round"/>
<text x="2163" y="381.5" class="lg" transform="translate(2163 0) scale(0.935 1) translate(-2163 0)">FeFC</text>
<line x1="1988.3" y1="439.7" x2="2127.3" y2="439.7" stroke="#00ff00" stroke-width="11.5" stroke-linecap="round"/>
<text x="2163" y="462.9" class="lg" transform="translate(2163 0) scale(0.935 1) translate(-2163 0)">NiFC</text>
<line x1="1988.3" y1="521.5" x2="2127.3" y2="521.5" stroke="#00ffff" stroke-width="11.5" stroke-linecap="round"/>
<text x="2163" y="544.7" class="lg" transform="translate(2163 0) scale(0.935 1) translate(-2163 0)">ZnFC</text>
<text x="1331.5" y="1906" class="al" transform="translate(1331.5 0) scale(0.99 1) translate(-1331.5 0)">2-theta</text>
<text transform="translate(103 862) rotate(-90) scale(0.988 1)" x="0" y="0" class="al">Intensity (CPS)</text>
<text x="1330.6" y="2077" class="cap">(<tspan font-weight="bold">c</tspan>)</text>
</svg>
</body></html>
